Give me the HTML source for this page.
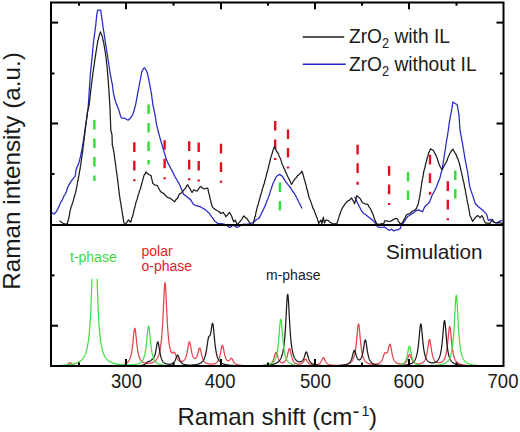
<!DOCTYPE html>
<html><head><meta charset="utf-8"><style>
html,body{margin:0;padding:0;background:#fff;width:520px;height:432px;overflow:hidden}
svg{display:block}
text{font-family:"Liberation Sans", sans-serif}
</style></head><body>
<svg width="520" height="432" viewBox="0 0 520 432">
<defs>
 <clipPath id="cu"><rect x="52" y="4" width="451" height="228"/></clipPath>
 <clipPath id="cl"><rect x="52" y="226" width="451" height="141"/></clipPath>
</defs>
<rect width="520" height="432" fill="#fff"/>
<g clip-path="url(#cu)" fill="none" stroke-linejoin="round">
 <line x1="94.4" y1="120" x2="94.4" y2="181" stroke="#33dd33" stroke-width="2.4" stroke-dasharray="9.6 8.9"/><line x1="148.6" y1="104.5" x2="148.6" y2="164.5" stroke="#33dd33" stroke-width="2.4" stroke-dasharray="9.6 8.9"/><line x1="279.9" y1="182.4" x2="279.9" y2="210.4" stroke="#33dd33" stroke-width="2.4" stroke-dasharray="9.6 8.9"/><line x1="408" y1="172" x2="408" y2="200" stroke="#33dd33" stroke-width="2.4" stroke-dasharray="9.6 8.9"/><line x1="455.3" y1="170.5" x2="455.3" y2="198.5" stroke="#33dd33" stroke-width="2.4" stroke-dasharray="9.6 8.9"/><line x1="134.3" y1="142.3" x2="134.3" y2="181.3" stroke="#e0101e" stroke-width="2.4" stroke-dasharray="9.6 8.9"/><line x1="164.6" y1="140.2" x2="164.6" y2="179.2" stroke="#e0101e" stroke-width="2.4" stroke-dasharray="9.6 8.9"/><line x1="189.2" y1="141.3" x2="189.2" y2="180.3" stroke="#e0101e" stroke-width="2.4" stroke-dasharray="9.6 8.9"/><line x1="198.7" y1="142.5" x2="198.7" y2="181.5" stroke="#e0101e" stroke-width="2.4" stroke-dasharray="9.6 8.9"/><line x1="221" y1="143.8" x2="221" y2="182.8" stroke="#e0101e" stroke-width="2.4" stroke-dasharray="9.6 8.9"/><line x1="275.2" y1="121" x2="275.2" y2="160" stroke="#e0101e" stroke-width="2.4" stroke-dasharray="9.6 8.9"/><line x1="288" y1="129.4" x2="288" y2="168.4" stroke="#e0101e" stroke-width="2.4" stroke-dasharray="9.6 8.9"/><line x1="357.6" y1="144.8" x2="357.6" y2="184.8" stroke="#e0101e" stroke-width="2.4" stroke-dasharray="9.6 8.9"/><line x1="389.1" y1="166.1" x2="389.1" y2="205.1" stroke="#e0101e" stroke-width="2.4" stroke-dasharray="9.6 8.9"/><line x1="430" y1="154.8" x2="430" y2="194.8" stroke="#e0101e" stroke-width="2.4" stroke-dasharray="9.6 8.9"/><line x1="447.8" y1="181.3" x2="447.8" y2="220.3" stroke="#e0101e" stroke-width="2.4" stroke-dasharray="9.6 8.9"/>
 <polyline points="51.50,212.40 54.20,214.20 56.30,211.70 57.15,210.04 58.00,208.48 58.85,206.64 59.70,204.70 60.58,202.78 61.45,201.11 62.33,199.79 63.20,197.80 64.13,195.72 65.07,194.56 66.00,192.60 66.70,190.51 67.40,188.00 68.40,185.93 69.40,183.90 70.57,182.13 71.73,180.48 72.90,179.00 74.10,177.33 75.30,176.00 75.53,173.96 75.77,172.00 76.00,170.00 76.75,168.04 77.50,166.00 78.25,164.60 79.00,162.50 79.50,160.60 80.00,158.39 80.50,156.54 81.00,153.90 81.50,152.00 81.83,149.81 82.17,148.18 82.50,145.83 82.83,143.87 83.17,142.26 83.50,140.30 83.80,138.22 84.10,136.47 84.40,134.21 84.70,132.07 85.00,130.00 85.30,128.00 85.60,125.82 85.90,123.66 86.20,121.78 86.50,120.00 86.77,118.13 87.03,115.79 87.30,113.91 87.57,111.65 87.83,110.23 88.10,108.00 88.23,105.82 88.36,103.96 88.49,102.45 88.62,100.25 88.75,98.54 88.88,96.46 89.01,94.59 89.14,92.19 89.27,90.57 89.40,88.60 89.52,86.81 89.64,85.26 89.77,83.10 89.89,81.47 90.01,79.29 90.13,77.72 90.26,75.88 90.38,73.96 90.50,72.40 90.69,70.82 90.88,68.72 91.07,67.34 91.26,65.26 91.44,63.47 91.63,61.70 91.82,59.92 92.01,57.76 92.20,56.20 92.38,54.11 92.57,51.92 92.75,49.98 92.93,47.72 93.12,46.28 93.30,43.90 93.53,41.83 93.77,40.29 94.00,38.30 94.25,36.31 94.50,34.86 94.75,32.86 95.00,30.90 95.22,28.79 95.45,27.44 95.68,25.66 95.90,23.50 96.08,21.94 96.26,19.87 96.44,17.73 96.62,15.92 96.80,14.30 97.20,12.55 97.60,10.20 100.80,10.20 101.00,12.29 101.20,14.30 101.50,15.93 101.80,18.27 102.10,19.95 102.40,21.70 102.62,23.60 102.85,25.31 103.08,27.19 103.30,29.10 103.65,30.99 104.00,32.93 104.35,35.59 104.70,37.40 105.00,39.54 105.30,41.77 105.60,43.90 105.93,45.83 106.27,48.18 106.60,49.72 106.93,52.01 107.27,53.82 107.60,56.20 107.87,57.74 108.13,60.13 108.40,61.71 108.67,63.35 108.93,65.22 109.20,67.26 109.47,68.69 109.73,70.66 110.00,72.40 110.34,74.33 110.69,75.90 111.03,77.81 111.37,79.79 111.71,81.69 112.06,82.96 112.40,85.00 112.62,87.15 112.85,88.35 113.08,90.73 113.30,92.40 113.77,94.78 114.23,96.48 114.70,98.90 115.33,100.68 115.97,102.79 116.60,104.40 117.37,105.93 118.13,108.22 118.90,110.00 119.50,112.37 120.10,114.34 120.70,116.50 121.50,118.00 124.40,118.00 126.25,119.26 128.10,120.20 130.50,118.00 131.65,116.16 132.80,114.70 133.50,112.14 134.20,110.00 134.90,107.40 135.60,105.00 135.93,102.93 136.27,101.19 136.60,99.76 136.93,97.65 137.27,95.64 137.60,93.90 137.95,91.89 138.30,90.52 138.65,88.31 139.00,86.84 139.35,84.66 139.70,82.80 140.05,80.96 140.40,79.38 140.75,77.42 141.10,75.46 141.45,73.50 141.80,71.70 142.65,70.36 143.50,68.50 144.60,67.80 146.00,70.00 147.40,73.00 147.80,74.90 148.20,77.22 148.60,78.58 149.00,80.79 149.40,82.80 149.75,84.66 150.10,86.82 150.45,88.18 150.80,90.41 151.15,92.17 151.50,93.90 151.73,95.90 151.97,97.69 152.20,99.78 152.43,101.18 152.67,103.08 152.90,105.00 153.32,106.73 153.74,108.57 154.16,110.62 154.58,113.05 155.00,114.70 155.32,116.96 155.64,118.47 155.96,120.83 156.28,122.77 156.60,124.80 157.07,126.67 157.53,128.51 158.00,130.06 158.47,132.32 158.93,133.78 159.40,135.69 159.87,137.49 160.33,138.98 160.80,141.00 161.38,142.57 161.95,144.69 162.53,146.81 163.10,148.50 163.68,150.64 164.27,152.49 164.85,153.98 165.43,156.46 166.02,158.29 166.60,160.00 167.75,162.61 168.90,164.70 169.73,166.37 170.56,168.31 171.39,169.35 172.21,171.00 173.04,172.65 173.87,174.47 174.70,176.30 175.76,177.98 176.82,179.80 177.88,181.93 178.94,183.42 180.00,185.60 180.70,187.38 181.40,188.81 182.10,190.88 182.80,192.14 183.50,194.20 185.20,195.37 186.90,196.80 188.65,198.41 190.40,199.40 191.53,201.16 192.67,203.08 193.80,204.60 195.53,205.28 197.27,205.81 199.00,206.30 200.73,206.95 202.47,208.09 204.20,208.90 205.93,210.04 207.67,212.04 209.40,213.30 210.44,215.18 211.48,216.67 212.52,217.67 213.56,219.43 214.60,221.10 216.35,222.27 218.10,223.70 221.50,223.70 223.75,224.08 226.00,225.00 228.00,226.34 230.00,227.50 231.50,226.46 233.00,225.00 235.00,226.12 237.00,227.50 238.67,226.75 240.33,225.71 242.00,224.50 244.00,224.07 246.00,224.35 248.00,224.00 250.50,223.52 253.00,222.50 254.60,221.30 256.13,219.95 257.67,219.08 259.20,217.90 260.14,216.14 261.08,214.26 262.02,212.04 262.96,210.57 263.90,208.60 264.67,206.78 265.43,204.99 266.20,203.06 266.97,200.81 267.73,199.17 268.50,197.10 269.07,195.62 269.65,193.90 270.23,191.65 270.80,189.82 271.38,188.52 271.95,186.48 272.53,184.98 273.10,183.20 273.98,181.76 274.85,179.62 275.73,177.78 276.60,176.20 279.60,174.40 282.40,176.20 283.53,178.10 284.67,180.18 285.80,182.00 286.98,183.17 288.15,184.82 289.32,186.09 290.50,187.80 291.65,189.64 292.80,191.48 293.95,192.89 295.10,194.70 295.98,196.36 296.85,198.23 297.73,199.75 298.60,201.70 299.45,203.25 300.30,205.03 301.15,206.85 302.00,208.60" stroke="#2626c8" stroke-width="1.25"/>
 <polyline points="354.60,196.90 355.75,198.91 356.90,201.50 358.05,204.03 359.20,206.20 360.35,208.56 361.50,210.80 362.65,212.11 363.80,213.70 365.55,214.55 367.30,216.00 368.75,217.33 370.20,218.30 371.65,219.19 373.10,220.60 374.55,222.04 376.00,224.00 377.70,226.90 381.20,227.50 384.60,226.90 386.90,228.70 389.20,230.40 391.50,229.20 393.80,230.90 395.55,230.09 397.30,229.80 400.20,228.70 401.05,226.36 401.90,224.60 403.35,222.88 404.80,220.60 406.25,218.39 407.70,216.50 410.80,214.80 412.43,213.36 414.07,212.43 415.70,210.90 418.70,209.90 420.65,210.93 422.60,211.80 423.60,209.18 424.60,207.00 426.23,205.29 427.87,203.94 429.50,202.00 430.23,200.11 430.95,198.55 431.67,196.32 432.40,194.80 433.22,193.34 434.04,191.75 434.86,190.17 435.68,188.44 436.50,186.70 437.30,184.58 438.10,182.34 438.90,180.64 439.70,178.60 440.20,176.84 440.70,174.50 441.20,172.62 441.70,170.87 442.20,168.90 442.50,167.22 442.80,165.46 443.10,163.07 443.40,161.25 443.70,159.82 444.00,157.86 444.30,155.90 444.57,154.21 444.84,152.56 445.11,150.68 445.39,148.77 445.66,146.88 445.93,144.77 446.20,143.00 446.53,141.10 446.87,138.78 447.20,137.18 447.53,135.18 447.87,133.15 448.20,131.00 448.48,128.88 448.76,126.75 449.04,124.70 449.32,122.35 449.60,120.60 449.98,118.88 450.36,116.71 450.74,114.64 451.12,112.79 451.50,110.80 451.85,108.76 452.20,106.32 452.55,104.43 452.90,102.00 455.00,103.54 457.10,104.50 457.48,106.52 457.86,108.45 458.24,110.98 458.62,113.25 459.00,115.00 459.12,116.63 459.25,118.90 459.38,120.85 459.50,122.79 459.62,124.11 459.75,125.96 459.88,128.47 460.00,130.00 460.34,131.59 460.69,133.49 461.03,135.62 461.37,137.39 461.71,139.46 462.06,140.93 462.40,143.00 462.70,145.12 463.00,146.45 463.30,148.66 463.60,150.00 463.90,152.11 464.20,153.62 464.50,155.64 464.80,157.60 465.15,159.28 465.50,161.38 465.85,163.01 466.20,164.54 466.55,167.01 466.90,168.75 467.25,170.58 467.60,172.10 467.86,173.75 468.12,175.68 468.39,177.38 468.65,179.14 468.91,180.90 469.18,183.05 469.44,184.61 469.70,186.70 470.37,188.44 471.03,190.89 471.70,192.60 472.32,194.44 472.93,196.08 473.55,198.27 474.17,199.84 474.78,201.87 475.40,203.70 476.75,204.95 478.10,206.50 479.67,207.74 481.23,209.06 482.80,210.20 484.65,212.08 486.50,213.90 487.10,215.99 487.70,218.44 488.30,220.40 491.10,219.40 492.50,221.06 493.90,222.20 496.70,223.10 499.40,221.30 502.00,220.40" stroke="#2626c8" stroke-width="1.25"/>
 <polyline points="59.60,220.60 60.40,221.40 62.50,223.00 65.00,224.00 67.40,223.50 67.87,221.48 68.33,219.80 68.80,218.60 69.06,216.48 69.32,215.86 69.58,214.15 69.84,211.64 70.10,210.30 70.66,209.18 71.22,206.59 71.78,205.27 72.34,203.58 72.90,201.90 73.37,200.78 73.83,198.12 74.30,196.83 74.77,195.55 75.23,193.30 75.70,192.20 76.00,190.30 76.30,188.99 76.60,187.90 76.90,186.17 77.20,184.67 77.50,183.00 77.80,181.10 78.10,179.76 78.40,178.35 78.70,176.56 79.00,175.04 79.30,172.93 79.60,171.19 79.90,170.00 80.15,168.61 80.40,166.20 80.65,165.40 80.90,163.32 81.15,161.30 81.40,160.32 81.65,157.69 81.90,156.42 82.15,154.21 82.40,153.00 82.60,151.92 82.80,149.80 83.00,148.44 83.20,146.17 83.40,145.15 83.60,143.39 83.80,141.67 84.00,140.40 84.20,138.13 84.40,136.47 84.60,135.16 84.80,133.69 85.00,131.44 85.20,130.00 85.41,128.57 85.62,126.38 85.83,125.15 86.04,123.78 86.25,121.30 86.45,120.46 86.66,117.96 86.87,117.46 87.08,115.24 87.29,113.53 87.50,112.00 87.92,110.46 88.35,108.43 88.78,106.88 89.20,104.80 89.38,102.68 89.56,101.64 89.74,100.01 89.92,98.84 90.10,96.15 90.28,95.02 90.46,93.62 90.64,91.90 90.82,89.71 91.00,88.60 91.20,87.09 91.40,85.03 91.60,83.37 91.80,82.57 92.00,80.14 92.20,78.83 92.40,77.56 92.60,75.89 92.80,74.08 93.00,72.40 93.24,71.15 93.48,69.12 93.72,67.68 93.96,66.30 94.20,64.51 94.44,62.85 94.68,60.95 94.92,59.51 95.16,57.70 95.40,56.20 95.68,54.72 95.95,52.51 96.22,50.83 96.50,49.41 96.78,47.33 97.05,45.36 97.32,44.17 97.60,42.00 97.97,40.26 98.35,39.21 98.72,37.54 99.10,35.60 99.80,33.69 100.50,31.90 101.20,34.01 101.90,35.60 102.33,36.64 102.75,38.67 103.17,40.83 103.60,42.00 103.89,43.87 104.17,45.62 104.46,47.52 104.75,49.31 105.04,50.98 105.33,52.55 105.61,54.05 105.90,56.20 106.07,57.57 106.24,59.19 106.41,60.98 106.58,63.28 106.75,64.12 106.92,65.86 107.09,67.39 107.26,69.26 107.43,71.32 107.60,72.40 107.72,74.49 107.84,75.49 107.96,76.98 108.08,79.34 108.20,80.49 108.32,82.34 108.44,83.23 108.56,85.80 108.68,86.76 108.80,88.60 108.90,90.21 109.00,91.47 109.10,93.35 109.20,95.46 109.30,97.08 109.40,98.27 109.50,100.24 109.60,101.48 109.70,103.00 109.80,104.82 109.90,106.02 110.00,108.00 110.06,109.47 110.12,111.63 110.18,113.40 110.25,114.24 110.31,116.74 110.37,118.53 110.43,119.78 110.49,121.01 110.55,123.45 110.62,124.62 110.68,126.79 110.74,128.16 110.80,130.00 111.20,131.83 111.60,133.04 112.00,135.00 112.05,136.64 112.10,138.36 112.15,140.16 112.20,141.31 112.25,143.89 112.30,145.00 112.77,146.75 113.23,148.77 113.70,151.00 113.93,152.38 114.16,153.83 114.39,155.93 114.62,158.03 114.86,159.63 115.09,160.68 115.32,162.29 115.55,164.19 115.78,166.40 116.01,167.74 116.24,169.93 116.48,171.29 116.71,172.92 116.94,174.77 117.17,176.43 117.40,177.80 117.60,179.33 117.80,180.95 118.00,182.89 118.20,184.67 118.40,185.97 118.60,188.05 118.80,190.01 119.00,191.12 119.20,192.85 119.40,195.00 119.68,196.38 119.97,198.27 120.25,200.85 120.53,201.50 120.82,203.45 121.10,205.60 121.35,206.78 121.61,208.73 121.86,209.76 122.12,211.88 122.37,213.10 122.63,214.81 122.88,217.02 123.14,217.88 123.39,219.98 123.65,221.31 123.90,223.00 126.00,223.50 127.25,221.65 128.50,220.00 130.70,222.20 131.22,220.80 131.74,218.23 132.26,217.37 132.78,215.55 133.30,213.30 133.72,211.80 134.13,209.36 134.55,208.40 134.97,206.62 135.38,205.13 135.80,203.10 136.33,201.06 136.87,200.24 137.40,198.46 137.93,195.84 138.47,194.38 139.00,192.90 139.52,190.56 140.04,189.74 140.56,188.06 141.08,186.37 141.60,184.00 142.10,182.35 142.60,180.64 143.10,178.87 143.60,176.96 144.10,175.10 145.05,174.04 146.00,171.90 147.35,173.33 148.70,174.50 151.00,175.60 151.43,177.30 151.85,179.42 152.27,180.72 152.70,183.20 154.50,184.90 157.40,185.50 158.12,187.22 158.85,188.63 159.58,189.76 160.30,191.30 161.75,192.57 163.20,193.00 164.90,194.80 166.35,196.51 167.80,197.60 170.10,198.20 171.55,199.15 173.00,200.50 174.70,201.70 176.15,199.44 177.60,198.20 178.37,196.23 179.13,194.75 179.90,193.60 181.50,193.00 182.50,191.51 183.50,190.50 184.57,188.99 185.65,188.11 186.73,185.88 187.80,184.70 188.90,187.08 190.00,188.50 191.05,190.72 192.10,192.50 193.80,189.90 195.55,190.77 197.30,190.80 198.47,189.22 199.63,187.27 200.80,186.40 202.50,188.04 204.20,189.00 205.95,188.29 207.70,188.20 208.07,189.37 208.44,191.76 208.81,193.22 209.19,194.25 209.56,195.92 209.93,198.33 210.30,199.40 210.73,200.85 211.15,203.09 211.57,204.13 212.00,206.30 213.30,207.98 214.60,208.90 217.20,210.70 218.95,211.54 220.70,213.30 223.30,212.40 224.17,213.85 225.03,214.71 225.90,216.70 227.03,215.33 228.17,214.25 229.30,212.40 230.17,213.33 231.03,215.00 231.90,216.70 232.50,218.75 233.10,220.30 233.70,221.90 235.40,220.20 236.25,222.13 237.10,224.50 238.40,223.35 239.70,221.90 240.77,220.35 241.85,219.33 242.93,217.15 244.00,215.90 245.17,217.34 246.33,218.33 247.50,219.30 248.67,221.32 249.83,222.62 251.00,224.50 252.70,225.20 253.15,223.92 253.60,222.34 254.05,220.41 254.50,219.00 254.90,216.70 255.30,216.09 255.70,214.06 256.10,211.71 256.50,210.61 256.90,208.60 257.37,206.71 257.84,205.32 258.31,204.17 258.78,202.06 259.25,200.25 259.72,198.65 260.19,196.75 260.66,195.30 261.13,193.75 261.60,192.40 262.06,190.39 262.52,188.64 262.98,187.50 263.44,185.58 263.90,184.59 264.36,183.19 264.82,180.79 265.28,179.53 265.74,177.83 266.20,176.20 266.62,174.01 267.04,172.39 267.45,171.62 267.87,169.44 268.29,168.16 268.71,165.59 269.13,164.54 269.55,163.18 269.96,161.50 270.38,158.79 270.80,157.70 271.30,156.14 271.80,154.37 272.30,153.25 272.80,150.85 273.30,149.49 273.80,148.56 274.30,146.60 275.07,148.03 275.83,149.48 276.60,151.56 277.37,152.25 278.13,153.38 278.90,155.40 279.56,156.93 280.21,158.30 280.87,159.87 281.53,162.11 282.19,164.23 282.84,165.44 283.50,167.00 284.17,168.66 284.84,169.76 285.51,171.54 286.19,173.25 286.86,174.54 287.53,176.28 288.20,177.40 289.05,179.19 289.90,180.49 290.75,182.67 291.60,184.30 292.48,182.86 293.35,181.05 294.23,180.17 295.10,178.60 296.27,177.81 297.43,175.83 298.60,175.10 299.73,173.85 300.87,172.78 302.00,171.20 302.50,172.80 303.00,174.35 303.50,176.19 304.00,178.11 304.50,180.00 305.00,181.56 305.50,183.20 305.94,184.47 306.38,187.06 306.81,188.92 307.25,189.67 307.69,191.59 308.12,193.23 308.56,195.78 309.00,197.10 309.57,199.13 310.13,199.62 310.70,201.50 311.27,202.86 311.83,204.73 312.40,206.30 313.07,208.46 313.74,209.10 314.41,210.88 315.09,212.91 315.76,214.61 316.43,216.54 317.10,217.90 317.63,219.69 318.17,221.20 318.70,223.50 319.85,221.57 321.00,220.00 321.50,222.33 322.00,223.50 322.32,222.20 322.65,219.84 322.98,219.07 323.30,217.10 323.70,218.84 324.10,221.37 324.50,223.00 325.35,220.92 326.20,220.00 328.50,220.60 329.95,222.20 331.40,222.90 333.00,224.00 334.85,223.59 336.70,224.00 337.27,222.22 337.85,220.74 338.43,218.83 339.00,217.10 339.58,215.08 340.16,213.43 340.74,211.98 341.32,210.08 341.90,209.00 343.05,206.91 344.20,205.50 345.17,203.69 346.13,202.72 347.10,201.40 349.40,200.30 350.55,198.98 351.70,198.00 352.43,199.55 353.15,200.64 353.88,201.79 354.60,203.80 355.06,201.96 355.52,200.83 355.98,198.59 356.44,197.13 356.90,195.60 358.35,197.16 359.80,198.10 360.77,199.52 361.73,201.63 362.70,202.70 365.00,203.80 367.90,204.40 369.05,206.95 370.20,208.50 370.97,209.81 371.73,211.85 372.50,213.10 373.07,214.54 373.63,216.13 374.20,218.30 374.97,219.96 375.73,221.89 376.50,223.50 378.25,224.27 380.00,224.00 381.75,223.58 383.50,224.00 384.05,222.70 384.60,220.90 386.90,220.90 389.00,221.50 391.50,220.90 392.95,219.82 394.40,218.80 396.70,218.30 397.60,219.31 398.50,221.20 399.65,223.17 400.80,224.00 401.95,223.08 403.10,221.70 403.95,219.58 404.80,218.84 405.65,216.20 406.50,215.00 408.15,213.91 409.80,213.80 411.20,212.20 412.60,211.00 414.55,210.28 416.50,208.50 417.25,205.94 418.00,204.50 418.43,203.15 418.85,200.93 419.27,198.43 419.70,197.10 419.95,195.42 420.20,193.52 420.45,191.88 420.70,190.32 420.95,188.48 421.20,186.50 421.49,185.41 421.77,182.71 422.06,181.81 422.35,179.64 422.64,178.40 422.93,176.85 423.21,175.28 423.50,173.00 423.92,170.97 424.33,169.44 424.75,168.28 425.17,166.53 425.58,164.10 426.00,162.50 426.50,161.23 427.00,158.79 427.50,156.95 428.00,155.61 428.50,153.50 429.17,151.93 429.83,150.37 430.50,148.90 433.20,150.30 434.02,151.76 434.85,153.42 435.68,154.67 436.50,156.70 437.14,157.97 437.78,160.60 438.42,162.18 439.06,164.11 439.70,165.70 440.95,168.06 442.20,169.70 443.00,167.92 443.80,166.46 444.60,165.05 445.40,163.62 446.20,162.40 446.84,161.09 447.48,159.01 448.12,157.33 448.76,156.08 449.40,154.30 450.60,152.19 451.80,150.36 453.00,149.10 453.97,151.07 454.93,152.87 455.90,154.30 456.58,155.80 457.26,157.94 457.94,158.96 458.62,161.15 459.30,163.00 459.68,164.76 460.06,166.04 460.43,167.82 460.81,169.80 461.19,171.44 461.57,172.59 461.94,174.91 462.32,175.83 462.70,178.00 463.08,180.31 463.47,181.14 463.85,182.95 464.23,184.64 464.62,187.34 465.00,188.50 465.30,189.91 465.60,191.96 465.90,194.09 466.20,195.71 466.50,196.28 466.80,198.50 467.14,200.23 467.48,202.02 467.82,203.84 468.16,205.10 468.50,207.00 468.80,208.59 469.10,210.01 469.40,211.84 469.70,214.26 470.00,216.00 470.87,217.26 471.73,219.18 472.60,221.30 474.00,219.25 475.40,217.60 477.20,215.70 478.60,216.13 480.00,217.60 481.90,215.70 482.80,216.99 483.70,219.40 484.65,221.76 485.60,223.10 487.80,223.22 490.00,223.50 491.20,221.20 492.40,219.60 494.00,222.00 495.60,222.75 497.20,223.00 499.13,222.58 501.07,223.03 503.00,223.50" stroke="#1c1c1c" stroke-width="1.25"/>
</g>
<g clip-path="url(#cl)">
 <path d="M51.00,366.24 L51.25,366.24 L51.50,366.24 L51.75,366.24 L52.00,366.24 L52.25,366.23 L52.50,366.23 L52.75,366.23 L53.00,366.23 L53.25,366.22 L53.50,366.22 L53.75,366.22 L54.00,366.22 L54.25,366.21 L54.50,366.21 L54.75,366.21 L55.00,366.20 L55.25,366.20 L55.50,366.20 L55.75,366.19 L56.00,366.19 L56.25,366.18 L56.50,366.18 L56.75,366.18 L57.00,366.17 L57.25,366.17 L57.50,366.16 L57.75,366.15 L58.00,366.15 L58.25,366.14 L58.50,366.13 L58.75,366.13 L59.00,366.12 L59.25,366.11 L59.50,366.10 L59.75,366.09 L60.00,366.09 L60.25,366.07 L60.50,366.06 L60.75,366.05 L61.00,366.04 L61.25,366.03 L61.50,366.01 L61.75,365.99 L62.00,365.98 L62.25,365.96 L62.50,365.94 L62.75,365.92 L63.00,365.89 L63.25,365.87 L63.50,365.84 L63.75,365.81 L64.00,365.77 L64.25,365.73 L64.50,365.69 L64.75,365.64 L65.00,365.59 L65.25,365.53 L65.50,365.46 L65.75,365.39 L66.00,365.30 L66.25,365.21 L66.50,365.10 L66.75,364.98 L67.00,364.84 L67.25,364.68 L67.50,364.51 L67.75,364.32 L68.00,364.11 L68.25,363.87 L68.50,363.63 L68.75,363.38 L69.00,363.14 L69.25,362.93 L69.50,362.75 L69.75,362.64 L70.00,362.60 L70.25,362.64 L70.50,362.75 L70.75,362.92 L71.00,363.14 L71.25,363.38 L71.50,363.62 L71.75,363.86 L72.00,364.09 L72.25,364.30 L72.50,364.49 L72.75,364.67 L73.00,364.82 L73.25,364.96 L73.50,365.08 L73.75,365.18 L74.00,365.28 L74.25,365.36 L74.50,365.43 L74.75,365.50 L75.00,365.55 L75.25,365.61 L75.50,365.65 L75.75,365.69 L76.00,365.73 L76.25,365.76 L76.50,365.79 L76.75,365.82 L77.00,365.85 L77.25,365.87 L77.50,365.89 L77.75,365.91 L78.00,365.93 L78.25,365.94 L78.50,365.96 L78.75,365.97 L79.00,365.98 L79.25,365.99 L79.50,366.00 L79.75,366.01 L80.00,366.02 L80.25,366.03 L80.50,366.03 L80.75,366.04 L81.00,366.05 L81.25,366.05 L81.50,366.06 L81.75,366.06 L82.00,366.07 L82.25,366.07 L82.50,366.08 L82.75,366.08 L83.00,366.08 L83.25,366.09 L83.50,366.09 L83.75,366.09 L84.00,366.09 L84.25,366.09 L84.50,366.10 L84.75,366.10 L85.00,366.10 L85.25,366.10 L85.50,366.10 L85.75,366.10 L86.00,366.10 L86.25,366.11 L86.50,366.11 L86.75,366.11 L87.00,366.11 L87.25,366.11 L87.50,366.11 L87.75,366.11 L88.00,366.11 L88.25,366.11 L88.50,366.11 L88.75,366.11 L89.00,366.11 L89.25,366.11 L89.50,366.11 L89.75,366.11 L90.00,366.10 L90.25,366.10 L90.50,366.10 L90.75,366.10 L91.00,366.10 L91.25,366.10 L91.50,366.10 L91.75,366.10 L92.00,366.10 L92.25,366.10 L92.50,366.09 L92.75,366.09 L93.00,366.09 L93.25,366.09 L93.50,366.09 L93.75,366.09 L94.00,366.09 L94.25,366.08 L94.50,366.08 L94.75,366.08 L95.00,366.08 L95.25,366.08 L95.50,366.07 L95.75,366.07 L96.00,366.07 L96.25,366.07 L96.50,366.07 L96.75,366.06 L97.00,366.06 L97.25,366.06 L97.50,366.06 L97.75,366.05 L98.00,366.05 L98.25,366.05 L98.50,366.04 L98.75,366.04 L99.00,366.04 L99.25,366.04 L99.50,366.03 L99.75,366.03 L100.00,366.03 L100.25,366.02 L100.50,366.02 L100.75,366.02 L101.00,366.01 L101.25,366.01 L101.50,366.00 L101.75,366.00 L102.00,366.00 L102.25,365.99 L102.50,365.99 L102.75,365.98 L103.00,365.98 L103.25,365.98 L103.50,365.97 L103.75,365.97 L104.00,365.96 L104.25,365.96 L104.50,365.95 L104.75,365.95 L105.00,365.94 L105.25,365.94 L105.50,365.93 L105.75,365.93 L106.00,365.92 L106.25,365.91 L106.50,365.91 L106.75,365.90 L107.00,365.90 L107.25,365.89 L107.50,365.88 L107.75,365.88 L108.00,365.87 L108.25,365.86 L108.50,365.86 L108.75,365.85 L109.00,365.84 L109.25,365.83 L109.50,365.82 L109.75,365.82 L110.00,365.81 L110.25,365.80 L110.50,365.79 L110.75,365.78 L111.00,365.77 L111.25,365.76 L111.50,365.75 L111.75,365.74 L112.00,365.73 L112.25,365.72 L112.50,365.71 L112.75,365.70 L113.00,365.69 L113.25,365.67 L113.50,365.66 L113.75,365.65 L114.00,365.63 L114.25,365.62 L114.50,365.61 L114.75,365.59 L115.00,365.57 L115.25,365.56 L115.50,365.54 L115.75,365.52 L116.00,365.51 L116.25,365.49 L116.50,365.47 L116.75,365.45 L117.00,365.43 L117.25,365.41 L117.50,365.39 L117.75,365.36 L118.00,365.34 L118.25,365.31 L118.50,365.29 L118.75,365.26 L119.00,365.23 L119.25,365.20 L119.50,365.17 L119.75,365.14 L120.00,365.10 L120.25,365.07 L120.50,365.03 L120.75,364.99 L121.00,364.95 L121.25,364.91 L121.50,364.86 L121.75,364.82 L122.00,364.76 L122.25,364.71 L122.50,364.66 L122.75,364.60 L123.00,364.53 L123.25,364.47 L123.50,364.40 L123.75,364.32 L124.00,364.24 L124.25,364.16 L124.50,364.07 L124.75,363.97 L125.00,363.87 L125.25,363.76 L125.50,363.64 L125.75,363.51 L126.00,363.38 L126.25,363.23 L126.50,363.07 L126.75,362.90 L127.00,362.71 L127.25,362.51 L127.50,362.28 L127.75,362.04 L128.00,361.78 L128.25,361.49 L128.50,361.17 L128.75,360.81 L129.00,360.42 L129.25,359.99 L129.50,359.51 L129.75,358.98 L130.00,358.38 L130.25,357.71 L130.50,356.96 L130.75,356.11 L131.00,355.16 L131.25,354.08 L131.50,352.86 L131.75,351.49 L132.00,349.93 L132.25,348.19 L132.50,346.25 L132.75,344.11 L133.00,341.78 L133.25,339.30 L133.50,336.76 L133.75,334.27 L134.00,331.98 L134.25,330.09 L134.50,328.79 L134.75,328.22 L135.00,328.45 L135.25,329.46 L135.50,331.12 L135.75,333.25 L136.00,335.66 L136.25,338.18 L136.50,340.67 L136.75,343.04 L137.00,345.25 L137.25,347.25 L137.50,349.05 L137.75,350.66 L138.00,352.08 L138.25,353.34 L138.50,354.45 L138.75,355.43 L139.00,356.30 L139.25,357.07 L139.50,357.74 L139.75,358.35 L140.00,358.88 L140.25,359.36 L140.50,359.79 L140.75,360.17 L141.00,360.52 L141.25,360.82 L141.50,361.10 L141.75,361.35 L142.00,361.57 L142.25,361.78 L142.50,361.96 L142.75,362.13 L143.00,362.28 L143.25,362.41 L143.50,362.54 L143.75,362.65 L144.00,362.75 L144.25,362.84 L144.50,362.92 L144.75,362.99 L145.00,363.05 L145.25,363.11 L145.50,363.16 L145.75,363.20 L146.00,363.24 L146.25,363.27 L146.50,363.30 L146.75,363.32 L147.00,363.34 L147.25,363.35 L147.50,363.35 L147.75,363.35 L148.00,363.35 L148.25,363.34 L148.50,363.33 L148.75,363.32 L149.00,363.29 L149.25,363.27 L149.50,363.24 L149.75,363.21 L150.00,363.17 L150.25,363.12 L150.50,363.08 L150.75,363.02 L151.00,362.96 L151.25,362.90 L151.50,362.83 L151.75,362.76 L152.00,362.67 L152.25,362.59 L152.50,362.49 L152.75,362.39 L153.00,362.28 L153.25,362.16 L153.50,362.03 L153.75,361.90 L154.00,361.75 L154.25,361.59 L154.50,361.42 L154.75,361.23 L155.00,361.04 L155.25,360.82 L155.50,360.59 L155.75,360.34 L156.00,360.08 L156.25,359.78 L156.50,359.47 L156.75,359.13 L157.00,358.75 L157.25,358.35 L157.50,357.91 L157.75,357.42 L158.00,356.89 L158.25,356.31 L158.50,355.67 L158.75,354.96 L159.00,354.18 L159.25,353.32 L159.50,352.36 L159.75,351.29 L160.00,350.10 L160.25,348.76 L160.50,347.26 L160.75,345.58 L161.00,343.68 L161.25,341.53 L161.50,339.11 L161.75,336.37 L162.00,333.27 L162.25,329.78 L162.50,325.87 L162.75,321.51 L163.00,316.71 L163.25,311.52 L163.50,306.03 L163.75,300.44 L164.00,295.01 L164.25,290.12 L164.50,286.18 L164.75,283.61 L165.00,282.70 L165.25,283.56 L165.50,286.08 L165.75,289.96 L166.00,294.80 L166.25,300.16 L166.50,305.70 L166.75,311.13 L167.00,316.26 L167.25,320.99 L167.50,325.28 L167.75,329.12 L168.00,332.53 L168.25,335.54 L168.50,338.19 L168.75,340.51 L169.00,342.55 L169.25,344.33 L169.50,345.88 L169.75,347.24 L170.00,348.41 L170.25,349.42 L170.50,350.29 L170.75,351.03 L171.00,351.64 L171.25,352.14 L171.50,352.53 L171.75,352.81 L172.00,352.99 L172.25,353.08 L172.50,353.08 L172.75,352.99 L173.00,352.84 L173.25,352.65 L173.50,352.44 L173.75,352.26 L174.00,352.15 L174.25,352.15 L174.50,352.30 L174.75,352.60 L175.00,353.05 L175.25,353.62 L175.50,354.27 L175.75,354.96 L176.00,355.66 L176.25,356.33 L176.50,356.96 L176.75,357.54 L177.00,358.07 L177.25,358.54 L177.50,358.97 L177.75,359.34 L178.00,359.67 L178.25,359.97 L178.50,360.22 L178.75,360.45 L179.00,360.64 L179.25,360.81 L179.50,360.96 L179.75,361.08 L180.00,361.18 L180.25,361.26 L180.50,361.33 L180.75,361.37 L181.00,361.40 L181.25,361.42 L181.50,361.41 L181.75,361.39 L182.00,361.35 L182.25,361.30 L182.50,361.22 L182.75,361.12 L183.00,361.01 L183.25,360.87 L183.50,360.70 L183.75,360.51 L184.00,360.28 L184.25,360.02 L184.50,359.72 L184.75,359.38 L185.00,358.98 L185.25,358.53 L185.50,358.01 L185.75,357.43 L186.00,356.75 L186.25,355.99 L186.50,355.12 L186.75,354.14 L187.00,353.03 L187.25,351.80 L187.50,350.45 L187.75,349.00 L188.00,347.49 L188.25,345.97 L188.50,344.53 L188.75,343.28 L189.00,342.33 L189.25,341.80 L189.50,341.73 L189.75,342.14 L190.00,342.98 L190.25,344.14 L190.50,345.51 L190.75,346.98 L191.00,348.46 L191.25,349.89 L191.50,351.21 L191.75,352.41 L192.00,353.48 L192.25,354.43 L192.50,355.25 L192.75,355.96 L193.00,356.57 L193.25,357.08 L193.50,357.51 L193.75,357.85 L194.00,358.13 L194.25,358.33 L194.50,358.48 L194.75,358.55 L195.00,358.57 L195.25,358.53 L195.50,358.42 L195.75,358.25 L196.00,358.01 L196.25,357.69 L196.50,357.29 L196.75,356.81 L197.00,356.24 L197.25,355.57 L197.50,354.80 L197.75,353.94 L198.00,352.99 L198.25,351.99 L198.50,350.96 L198.75,349.98 L199.00,349.11 L199.25,348.45 L199.50,348.07 L199.75,348.02 L200.00,348.32 L200.25,348.93 L200.50,349.80 L200.75,350.84 L201.00,351.96 L201.25,353.11 L201.50,354.22 L201.75,355.27 L202.00,356.23 L202.25,357.10 L202.50,357.89 L202.75,358.58 L203.00,359.20 L203.25,359.75 L203.50,360.24 L203.75,360.67 L204.00,361.06 L204.25,361.40 L204.50,361.70 L204.75,361.97 L205.00,362.21 L205.25,362.42 L205.50,362.62 L205.75,362.79 L206.00,362.95 L206.25,363.09 L206.50,363.22 L206.75,363.33 L207.00,363.43 L207.25,363.53 L207.50,363.61 L207.75,363.69 L208.00,363.75 L208.25,363.82 L208.50,363.87 L208.75,363.92 L209.00,363.96 L209.25,364.00 L209.50,364.03 L209.75,364.05 L210.00,364.07 L210.25,364.09 L210.50,364.10 L210.75,364.11 L211.00,364.12 L211.25,364.12 L211.50,364.11 L211.75,364.10 L212.00,364.09 L212.25,364.07 L212.50,364.04 L212.75,364.01 L213.00,363.98 L213.25,363.94 L213.50,363.89 L213.75,363.84 L214.00,363.77 L214.25,363.71 L214.50,363.63 L214.75,363.54 L215.00,363.45 L215.25,363.34 L215.50,363.22 L215.75,363.08 L216.00,362.94 L216.25,362.77 L216.50,362.58 L216.75,362.37 L217.00,362.14 L217.25,361.88 L217.50,361.58 L217.75,361.25 L218.00,360.88 L218.25,360.46 L218.50,359.98 L218.75,359.44 L219.00,358.82 L219.25,358.13 L219.50,357.35 L219.75,356.46 L220.00,355.47 L220.25,354.38 L220.50,353.17 L220.75,351.88 L221.00,350.54 L221.25,349.18 L221.50,347.91 L221.75,346.80 L222.00,345.96 L222.25,345.49 L222.50,345.43 L222.75,345.79 L223.00,346.54 L223.25,347.57 L223.50,348.79 L223.75,350.10 L224.00,351.42 L224.25,352.69 L224.50,353.87 L224.75,354.95 L225.00,355.91 L225.25,356.77 L225.50,357.51 L225.75,358.16 L226.00,358.72 L226.25,359.20 L226.50,359.61 L226.75,359.95 L227.00,360.22 L227.25,360.44 L227.50,360.61 L227.75,360.73 L228.00,360.79 L228.25,360.80 L228.50,360.77 L228.75,360.69 L229.00,360.55 L229.25,360.37 L229.50,360.14 L229.75,359.87 L230.00,359.56 L230.25,359.24 L230.50,358.92 L230.75,358.63 L231.00,358.42 L231.25,358.30 L231.50,358.30 L231.75,358.44 L232.00,358.69 L232.25,359.05 L232.50,359.48 L232.75,359.95 L233.00,360.43 L233.25,360.90 L233.50,361.34 L233.75,361.75 L234.00,362.12 L234.25,362.45 L234.50,362.76 L234.75,363.02 L235.00,363.26 L235.25,363.48 L235.50,363.67 L235.75,363.84 L236.00,363.99 L236.25,364.13 L236.50,364.26 L236.75,364.37 L237.00,364.47 L237.25,364.56 L237.50,364.64 L237.75,364.72 L238.00,364.79 L238.25,364.86 L238.50,364.92 L238.75,364.97 L239.00,365.02 L239.25,365.07 L239.50,365.11 L239.75,365.15 L240.00,365.19 L240.25,365.22 L240.50,365.26 L240.75,365.29 L241.00,365.32 L241.25,365.34 L241.50,365.37 L241.75,365.39 L242.00,365.41 L242.25,365.44 L242.50,365.46 L242.75,365.47 L243.00,365.49 L243.25,365.51 L243.50,365.53 L243.75,365.54 L244.00,365.56 L244.25,365.57 L244.50,365.58 L244.75,365.59 L245.00,365.61 L245.25,365.62 L245.50,365.63 L245.75,365.64 L246.00,365.65 L246.25,365.65 L246.50,365.66 L246.75,365.67 L247.00,365.68 L247.25,365.69 L247.50,365.69 L247.75,365.70 L248.00,365.71 L248.25,365.71 L248.50,365.72 L248.75,365.72 L249.00,365.73 L249.25,365.73 L249.50,365.73 L249.75,365.74 L250.00,365.74 L250.25,365.75 L250.50,365.75 L250.75,365.75 L251.00,365.75 L251.25,365.76 L251.50,365.76 L251.75,365.76 L252.00,365.76 L252.25,365.76 L252.50,365.76 L252.75,365.76 L253.00,365.76 L253.25,365.76 L253.50,365.76 L253.75,365.76 L254.00,365.76 L254.25,365.76 L254.50,365.76 L254.75,365.76 L255.00,365.76 L255.25,365.76 L255.50,365.76 L255.75,365.75 L256.00,365.75 L256.25,365.75 L256.50,365.74 L256.75,365.74 L257.00,365.74 L257.25,365.73 L257.50,365.73 L257.75,365.72 L258.00,365.72 L258.25,365.71 L258.50,365.71 L258.75,365.70 L259.00,365.69 L259.25,365.69 L259.50,365.68 L259.75,365.67 L260.00,365.66 L260.25,365.65 L260.50,365.64 L260.75,365.63 L261.00,365.62 L261.25,365.61 L261.50,365.60 L261.75,365.59 L262.00,365.57 L262.25,365.56 L262.50,365.55 L262.75,365.53 L263.00,365.51 L263.25,365.49 L263.50,365.48 L263.75,365.46 L264.00,365.43 L264.25,365.41 L264.50,365.39 L264.75,365.36 L265.00,365.33 L265.25,365.30 L265.50,365.27 L265.75,365.24 L266.00,365.20 L266.25,365.17 L266.50,365.13 L266.75,365.08 L267.00,365.03 L267.25,364.98 L267.50,364.93 L267.75,364.87 L268.00,364.80 L268.25,364.73 L268.50,364.66 L268.75,364.58 L269.00,364.49 L269.25,364.39 L269.50,364.28 L269.75,364.16 L270.00,364.03 L270.25,363.88 L270.50,363.72 L270.75,363.54 L271.00,363.35 L271.25,363.12 L271.50,362.88 L271.75,362.60 L272.00,362.28 L272.25,361.93 L272.50,361.53 L272.75,361.08 L273.00,360.58 L273.25,360.01 L273.50,359.37 L273.75,358.66 L274.00,357.87 L274.25,357.03 L274.50,356.13 L274.75,355.22 L275.00,354.34 L275.25,353.54 L275.50,352.89 L275.75,352.46 L276.00,352.30 L276.25,352.42 L276.50,352.81 L276.75,353.42 L277.00,354.18 L277.25,355.02 L277.50,355.89 L277.75,356.75 L278.00,357.55 L278.25,358.29 L278.50,358.95 L278.75,359.54 L279.00,360.07 L279.25,360.52 L279.50,360.91 L279.75,361.26 L280.00,361.55 L280.25,361.80 L280.50,362.01 L280.75,362.18 L281.00,362.33 L281.25,362.45 L281.50,362.54 L281.75,362.60 L282.00,362.64 L282.25,362.66 L282.50,362.66 L282.75,362.64 L283.00,362.59 L283.25,362.52 L283.50,362.43 L283.75,362.31 L284.00,362.17 L284.25,362.00 L284.50,361.80 L284.75,361.56 L285.00,361.28 L285.25,360.95 L285.50,360.58 L285.75,360.15 L286.00,359.66 L286.25,359.10 L286.50,358.45 L286.75,357.72 L287.00,356.90 L287.25,355.99 L287.50,354.98 L287.75,353.90 L288.00,352.77 L288.25,351.64 L288.50,350.57 L288.75,349.64 L289.00,348.94 L289.25,348.56 L289.50,348.53 L289.75,348.87 L290.00,349.53 L290.25,350.44 L290.50,351.51 L290.75,352.65 L291.00,353.81 L291.25,354.93 L291.50,355.97 L291.75,356.93 L292.00,357.79 L292.25,358.57 L292.50,359.25 L292.75,359.86 L293.00,360.40 L293.25,360.87 L293.50,361.29 L293.75,361.66 L294.00,361.98 L294.25,362.27 L294.50,362.53 L294.75,362.76 L295.00,362.96 L295.25,363.14 L295.50,363.29 L295.75,363.44 L296.00,363.56 L296.25,363.67 L296.50,363.77 L296.75,363.85 L297.00,363.93 L297.25,363.99 L297.50,364.05 L297.75,364.09 L298.00,364.13 L298.25,364.15 L298.50,364.17 L298.75,364.18 L299.00,364.18 L299.25,364.18 L299.50,364.16 L299.75,364.13 L300.00,364.10 L300.25,364.05 L300.50,363.99 L300.75,363.91 L301.00,363.82 L301.25,363.72 L301.50,363.59 L301.75,363.45 L302.00,363.28 L302.25,363.08 L302.50,362.86 L302.75,362.60 L303.00,362.30 L303.25,361.97 L303.50,361.61 L303.75,361.21 L304.00,360.79 L304.25,360.35 L304.50,359.94 L304.75,359.56 L305.00,359.26 L305.25,359.06 L305.50,359.00 L305.75,359.08 L306.00,359.29 L306.25,359.61 L306.50,360.00 L306.75,360.44 L307.00,360.89 L307.25,361.33 L307.50,361.74 L307.75,362.13 L308.00,362.47 L308.25,362.79 L308.50,363.06 L308.75,363.31 L309.00,363.53 L309.25,363.72 L309.50,363.89 L309.75,364.03 L310.00,364.17 L310.25,364.28 L310.50,364.38 L310.75,364.47 L311.00,364.55 L311.25,364.62 L311.50,364.68 L311.75,364.73 L312.00,364.78 L312.25,364.82 L312.50,364.85 L312.75,364.88 L313.00,364.90 L313.25,364.92 L313.50,364.94 L313.75,364.95 L314.00,364.95 L314.25,364.96 L314.50,364.95 L314.75,364.95 L315.00,364.94 L315.25,364.92 L315.50,364.90 L315.75,364.88 L316.00,364.85 L316.25,364.82 L316.50,364.78 L316.75,364.73 L317.00,364.68 L317.25,364.62 L317.50,364.55 L317.75,364.47 L318.00,364.39 L318.25,364.29 L318.50,364.17 L318.75,364.04 L319.00,363.90 L319.25,363.73 L319.50,363.54 L319.75,363.33 L320.00,363.08 L320.25,362.81 L320.50,362.49 L320.75,362.14 L321.00,361.74 L321.25,361.30 L321.50,360.81 L321.75,360.29 L322.00,359.75 L322.25,359.21 L322.50,358.70 L322.75,358.25 L323.00,357.92 L323.25,357.73 L323.50,357.71 L323.75,357.87 L324.00,358.18 L324.25,358.61 L324.50,359.12 L324.75,359.66 L325.00,360.21 L325.25,360.74 L325.50,361.24 L325.75,361.69 L326.00,362.10 L326.25,362.47 L326.50,362.79 L326.75,363.08 L327.00,363.34 L327.25,363.56 L327.50,363.76 L327.75,363.94 L328.00,364.09 L328.25,364.23 L328.50,364.36 L328.75,364.47 L329.00,364.56 L329.25,364.65 L329.50,364.73 L329.75,364.80 L330.00,364.86 L330.25,364.92 L330.50,364.97 L330.75,365.02 L331.00,365.06 L331.25,365.10 L331.50,365.13 L331.75,365.16 L332.00,365.19 L332.25,365.22 L332.50,365.24 L332.75,365.26 L333.00,365.28 L333.25,365.30 L333.50,365.31 L333.75,365.32 L334.00,365.34 L334.25,365.34 L334.50,365.35 L334.75,365.36 L335.00,365.37 L335.25,365.37 L335.50,365.38 L335.75,365.38 L336.00,365.38 L336.25,365.38 L336.50,365.38 L336.75,365.38 L337.00,365.38 L337.25,365.37 L337.50,365.37 L337.75,365.37 L338.00,365.36 L338.25,365.35 L338.50,365.35 L338.75,365.34 L339.00,365.33 L339.25,365.32 L339.50,365.31 L339.75,365.29 L340.00,365.28 L340.25,365.27 L340.50,365.25 L340.75,365.24 L341.00,365.22 L341.25,365.20 L341.50,365.18 L341.75,365.16 L342.00,365.14 L342.25,365.12 L342.50,365.09 L342.75,365.07 L343.00,365.04 L343.25,365.01 L343.50,364.98 L343.75,364.95 L344.00,364.91 L344.25,364.87 L344.50,364.84 L344.75,364.80 L345.00,364.75 L345.25,364.71 L345.50,364.66 L345.75,364.61 L346.00,364.55 L346.25,364.49 L346.50,364.43 L346.75,364.37 L347.00,364.30 L347.25,364.22 L347.50,364.14 L347.75,364.06 L348.00,363.97 L348.25,363.87 L348.50,363.77 L348.75,363.65 L349.00,363.53 L349.25,363.40 L349.50,363.27 L349.75,363.12 L350.00,362.95 L350.25,362.78 L350.50,362.59 L350.75,362.38 L351.00,362.15 L351.25,361.90 L351.50,361.63 L351.75,361.34 L352.00,361.01 L352.25,360.65 L352.50,360.26 L352.75,359.82 L353.00,359.33 L353.25,358.79 L353.50,358.18 L353.75,357.50 L354.00,356.74 L354.25,355.89 L354.50,354.92 L354.75,353.83 L355.00,352.60 L355.25,351.21 L355.50,349.64 L355.75,347.87 L356.00,345.88 L356.25,343.67 L356.50,341.24 L356.75,338.60 L357.00,335.82 L357.25,332.98 L357.50,330.22 L357.75,327.75 L358.00,325.75 L358.25,324.45 L358.50,324.00 L358.75,324.45 L359.00,325.74 L359.25,327.73 L359.50,330.20 L359.75,332.95 L360.00,335.78 L360.25,338.56 L360.50,341.19 L360.75,343.62 L361.00,345.83 L361.25,347.81 L361.50,349.57 L361.75,351.14 L362.00,352.52 L362.25,353.74 L362.50,354.83 L362.75,355.78 L363.00,356.63 L363.25,357.39 L363.50,358.06 L363.75,358.66 L364.00,359.19 L364.25,359.67 L364.50,360.10 L364.75,360.49 L365.00,360.84 L365.25,361.16 L365.50,361.45 L365.75,361.71 L366.00,361.95 L366.25,362.17 L366.50,362.37 L366.75,362.55 L367.00,362.72 L367.25,362.87 L367.50,363.01 L367.75,363.14 L368.00,363.26 L368.25,363.37 L368.50,363.47 L368.75,363.56 L369.00,363.64 L369.25,363.72 L369.50,363.79 L369.75,363.86 L370.00,363.92 L370.25,363.97 L370.50,364.02 L370.75,364.07 L371.00,364.11 L371.25,364.15 L371.50,364.18 L371.75,364.21 L372.00,364.23 L372.25,364.26 L372.50,364.28 L372.75,364.29 L373.00,364.30 L373.25,364.31 L373.50,364.32 L373.75,364.32 L374.00,364.32 L374.25,364.31 L374.50,364.30 L374.75,364.29 L375.00,364.28 L375.25,364.26 L375.50,364.24 L375.75,364.21 L376.00,364.18 L376.25,364.14 L376.50,364.10 L376.75,364.05 L377.00,364.00 L377.25,363.94 L377.50,363.88 L377.75,363.80 L378.00,363.72 L378.25,363.63 L378.50,363.54 L378.75,363.43 L379.00,363.30 L379.25,363.17 L379.50,363.01 L379.75,362.85 L380.00,362.66 L380.25,362.45 L380.50,362.21 L380.75,361.95 L381.00,361.65 L381.25,361.32 L381.50,360.94 L381.75,360.52 L382.00,360.05 L382.25,359.52 L382.50,358.93 L382.75,358.28 L383.00,357.58 L383.25,356.82 L383.50,356.03 L383.75,355.24 L384.00,354.48 L384.25,353.81 L384.50,353.25 L384.75,352.86 L385.00,352.64 L385.25,352.57 L385.50,352.64 L385.75,352.78 L386.00,352.93 L386.25,353.06 L386.50,353.11 L386.75,353.05 L387.00,352.87 L387.25,352.54 L387.50,352.05 L387.75,351.42 L388.00,350.62 L388.25,349.70 L388.50,348.66 L388.75,347.57 L389.00,346.48 L389.25,345.51 L389.50,344.74 L389.75,344.28 L390.00,344.20 L390.25,344.54 L390.50,345.26 L390.75,346.30 L391.00,347.57 L391.25,348.95 L391.50,350.36 L391.75,351.75 L392.00,353.06 L392.25,354.26 L392.50,355.36 L392.75,356.34 L393.00,357.22 L393.25,358.00 L393.50,358.69 L393.75,359.30 L394.00,359.84 L394.25,360.31 L394.50,360.74 L394.75,361.12 L395.00,361.45 L395.25,361.75 L395.50,362.02 L395.75,362.26 L396.00,362.47 L396.25,362.66 L396.50,362.84 L396.75,362.99 L397.00,363.13 L397.25,363.26 L397.50,363.37 L397.75,363.47 L398.00,363.56 L398.25,363.64 L398.50,363.72 L398.75,363.78 L399.00,363.84 L399.25,363.88 L399.50,363.93 L399.75,363.96 L400.00,363.99 L400.25,364.01 L400.50,364.03 L400.75,364.04 L401.00,364.04 L401.25,364.04 L401.50,364.03 L401.75,364.01 L402.00,363.99 L402.25,363.96 L402.50,363.92 L402.75,363.87 L403.00,363.82 L403.25,363.75 L403.50,363.68 L403.75,363.59 L404.00,363.48 L404.25,363.37 L404.50,363.23 L404.75,363.08 L405.00,362.91 L405.25,362.71 L405.50,362.48 L405.75,362.22 L406.00,361.93 L406.25,361.59 L406.50,361.21 L406.75,360.78 L407.00,360.29 L407.25,359.74 L407.50,359.14 L407.75,358.47 L408.00,357.77 L408.25,357.03 L408.50,356.30 L408.75,355.62 L409.00,355.05 L409.25,354.63 L409.50,354.42 L409.75,354.44 L410.00,354.69 L410.25,355.15 L410.50,355.74 L410.75,356.44 L411.00,357.17 L411.25,357.90 L411.50,358.60 L411.75,359.25 L412.00,359.84 L412.25,360.38 L412.50,360.85 L412.75,361.27 L413.00,361.64 L413.25,361.97 L413.50,362.25 L413.75,362.50 L414.00,362.72 L414.25,362.91 L414.50,363.08 L414.75,363.23 L415.00,363.35 L415.25,363.46 L415.50,363.56 L415.75,363.64 L416.00,363.72 L416.25,363.78 L416.50,363.83 L416.75,363.87 L417.00,363.90 L417.25,363.93 L417.50,363.95 L417.75,363.96 L418.00,363.96 L418.25,363.96 L418.50,363.95 L418.75,363.93 L419.00,363.91 L419.25,363.88 L419.50,363.85 L419.75,363.81 L420.00,363.76 L420.25,363.70 L420.50,363.64 L420.75,363.56 L421.00,363.48 L421.25,363.39 L421.50,363.29 L421.75,363.17 L422.00,363.05 L422.25,362.91 L422.50,362.75 L422.75,362.58 L423.00,362.39 L423.25,362.17 L423.50,361.94 L423.75,361.67 L424.00,361.38 L424.25,361.05 L424.50,360.68 L424.75,360.26 L425.00,359.79 L425.25,359.27 L425.50,358.67 L425.75,358.00 L426.00,357.24 L426.25,356.38 L426.50,355.41 L426.75,354.32 L427.00,353.08 L427.25,351.71 L427.50,350.20 L427.75,348.57 L428.00,346.84 L428.25,345.08 L428.50,343.37 L428.75,341.83 L429.00,340.60 L429.25,339.79 L429.50,339.50 L429.75,339.77 L430.00,340.57 L430.25,341.79 L430.50,343.31 L430.75,345.00 L431.00,346.75 L431.25,348.46 L431.50,350.08 L431.75,351.57 L432.00,352.92 L432.25,354.14 L432.50,355.21 L432.75,356.17 L433.00,357.01 L433.25,357.75 L433.50,358.40 L433.75,358.97 L434.00,359.48 L434.25,359.92 L434.50,360.32 L434.75,360.66 L435.00,360.97 L435.25,361.24 L435.50,361.48 L435.75,361.69 L436.00,361.87 L436.25,362.03 L436.50,362.17 L436.75,362.30 L437.00,362.40 L437.25,362.49 L437.50,362.56 L437.75,362.63 L438.00,362.67 L438.25,362.71 L438.50,362.73 L438.75,362.75 L439.00,362.75 L439.25,362.74 L439.50,362.72 L439.75,362.68 L440.00,362.64 L440.25,362.58 L440.50,362.51 L440.75,362.43 L441.00,362.34 L441.25,362.23 L441.50,362.11 L441.75,361.96 L442.00,361.80 L442.25,361.63 L442.50,361.42 L442.75,361.20 L443.00,360.95 L443.25,360.67 L443.50,360.35 L443.75,360.00 L444.00,359.60 L444.25,359.16 L444.50,358.67 L444.75,358.11 L445.00,357.48 L445.25,356.77 L445.50,355.97 L445.75,355.06 L446.00,354.04 L446.25,352.87 L446.50,351.55 L446.75,350.06 L447.00,348.38 L447.25,346.49 L447.50,344.39 L447.75,342.08 L448.00,339.59 L448.25,336.97 L448.50,334.33 L448.75,331.80 L449.00,329.56 L449.25,327.82 L449.50,326.76 L449.75,326.52 L450.00,327.12 L450.25,328.49 L450.50,330.47 L450.75,332.87 L451.00,335.48 L451.25,338.15 L451.50,340.75 L451.75,343.19 L452.00,345.44 L452.25,347.48 L452.50,349.31 L452.75,350.93 L453.00,352.38 L453.25,353.65 L453.50,354.78 L453.75,355.78 L454.00,356.67 L454.25,357.46 L454.50,358.16 L454.75,358.79 L455.00,359.35 L455.25,359.85 L455.50,360.30 L455.75,360.71 L456.00,361.08 L456.25,361.41 L456.50,361.72 L456.75,361.99 L457.00,362.25 L457.25,362.48 L457.50,362.69 L457.75,362.89 L458.00,363.07 L458.25,363.23 L458.50,363.39 L458.75,363.53 L459.00,363.66 L459.25,363.78 L459.50,363.90 L459.75,364.01 L460.00,364.11 L460.25,364.20 L460.50,364.29 L460.75,364.37 L461.00,364.45 L461.25,364.52 L461.50,364.59 L461.75,364.65 L462.00,364.71 L462.25,364.77 L462.50,364.83 L462.75,364.88 L463.00,364.93 L463.25,364.97 L463.50,365.02 L463.75,365.06 L464.00,365.10 L464.25,365.14 L464.50,365.17 L464.75,365.21 L465.00,365.24 L465.25,365.27 L465.50,365.30 L465.75,365.33 L466.00,365.36 L466.25,365.39 L466.50,365.41 L466.75,365.44 L467.00,365.46 L467.25,365.48 L467.50,365.50 L467.75,365.53 L468.00,365.55 L468.25,365.56 L468.50,365.58 L468.75,365.60 L469.00,365.62 L469.25,365.64 L469.50,365.65 L469.75,365.67 L470.00,365.68 L470.25,365.70 L470.50,365.71 L470.75,365.72 L471.00,365.74 L471.25,365.75 L471.50,365.76 L471.75,365.77 L472.00,365.79 L472.25,365.80 L472.50,365.81 L472.75,365.82 L473.00,365.83 L473.25,365.84 L473.50,365.85 L473.75,365.86 L474.00,365.87 L474.25,365.88 L474.50,365.88 L474.75,365.89 L475.00,365.90 L475.25,365.91 L475.50,365.92 L475.75,365.92 L476.00,365.93 L476.25,365.94 L476.50,365.95 L476.75,365.95 L477.00,365.96 L477.25,365.96 L477.50,365.97 L477.75,365.98 L478.00,365.98 L478.25,365.99 L478.50,365.99 L478.75,366.00 L479.00,366.01 L479.25,366.01 L479.50,366.02 L479.75,366.02 L480.00,366.03 L480.25,366.03 L480.50,366.04 L480.75,366.04 L481.00,366.05 L481.25,366.05 L481.50,366.05 L481.75,366.06 L482.00,366.06 L482.25,366.07 L482.50,366.07 L482.75,366.07 L483.00,366.08 L483.25,366.08 L483.50,366.09 L483.75,366.09 L484.00,366.09 L484.25,366.10 L484.50,366.10 L484.75,366.10 L485.00,366.11 L485.25,366.11 L485.50,366.11 L485.75,366.12 L486.00,366.12 L486.25,366.12 L486.50,366.13 L486.75,366.13 L487.00,366.13 L487.25,366.13 L487.50,366.14 L487.75,366.14 L488.00,366.14 L488.25,366.14 L488.50,366.15 L488.75,366.15 L489.00,366.15 L489.25,366.15 L489.50,366.16 L489.75,366.16 L490.00,366.16 L490.25,366.16 L490.50,366.17 L490.75,366.17 L491.00,366.17 L491.25,366.17 L491.50,366.17 L491.75,366.18 L492.00,366.18 L492.25,366.18 L492.50,366.18 L492.75,366.18 L493.00,366.19 L493.25,366.19 L493.50,366.19 L493.75,366.19 L494.00,366.19 L494.25,366.20 L494.50,366.20 L494.75,366.20 L495.00,366.20 L495.25,366.20 L495.50,366.20 L495.75,366.21 L496.00,366.21 L496.25,366.21 L496.50,366.21 L496.75,366.21 L497.00,366.21 L497.25,366.21 L497.50,366.22 L497.75,366.22 L498.00,366.22 L498.25,366.22 L498.50,366.22 L498.75,366.22 L499.00,366.22 L499.25,366.23 L499.50,366.23 L499.75,366.23 L500.00,366.23 L500.25,366.23 L500.50,366.23 L500.75,366.23 L501.00,366.23 L501.25,366.24 L501.50,366.24 L501.75,366.24 L502.00,366.24 L502.25,366.24 L502.50,366.24 L502.75,366.24 L503.00,366.24" fill="none" stroke="#e6404a" stroke-width="1.25" stroke-linejoin="round"/><path d="M51.00,366.35 L51.25,366.35 L51.50,366.35 L51.75,366.35 L52.00,366.35 L52.25,366.35 L52.50,366.35 L52.75,366.35 L53.00,366.35 L53.25,366.35 L53.50,366.35 L53.75,366.35 L54.00,366.35 L54.25,366.35 L54.50,366.35 L54.75,366.35 L55.00,366.35 L55.25,366.35 L55.50,366.35 L55.75,366.35 L56.00,366.35 L56.25,366.35 L56.50,366.35 L56.75,366.35 L57.00,366.35 L57.25,366.35 L57.50,366.35 L57.75,366.35 L58.00,366.35 L58.25,366.35 L58.50,366.35 L58.75,366.35 L59.00,366.35 L59.25,366.35 L59.50,366.35 L59.75,366.35 L60.00,366.35 L60.25,366.35 L60.50,366.35 L60.75,366.35 L61.00,366.35 L61.25,366.35 L61.50,366.35 L61.75,366.35 L62.00,366.35 L62.25,366.35 L62.50,366.35 L62.75,366.35 L63.00,366.35 L63.25,366.35 L63.50,366.35 L63.75,366.34 L64.00,366.34 L64.25,366.34 L64.50,366.34 L64.75,366.34 L65.00,366.34 L65.25,366.34 L65.50,366.34 L65.75,366.34 L66.00,366.34 L66.25,366.34 L66.50,366.34 L66.75,366.34 L67.00,366.34 L67.25,366.34 L67.50,366.34 L67.75,366.34 L68.00,366.34 L68.25,366.34 L68.50,366.34 L68.75,366.34 L69.00,366.34 L69.25,366.34 L69.50,366.34 L69.75,366.34 L70.00,366.34 L70.25,366.34 L70.50,366.34 L70.75,366.34 L71.00,366.34 L71.25,366.34 L71.50,366.34 L71.75,366.34 L72.00,366.34 L72.25,366.34 L72.50,366.34 L72.75,366.34 L73.00,366.34 L73.25,366.34 L73.50,366.34 L73.75,366.34 L74.00,366.34 L74.25,366.33 L74.50,366.33 L74.75,366.33 L75.00,366.33 L75.25,366.33 L75.50,366.33 L75.75,366.33 L76.00,366.33 L76.25,366.33 L76.50,366.33 L76.75,366.33 L77.00,366.33 L77.25,366.33 L77.50,366.33 L77.75,366.33 L78.00,366.33 L78.25,366.33 L78.50,366.33 L78.75,366.33 L79.00,366.33 L79.25,366.33 L79.50,366.33 L79.75,366.33 L80.00,366.33 L80.25,366.33 L80.50,366.33 L80.75,366.33 L81.00,366.33 L81.25,366.33 L81.50,366.33 L81.75,366.33 L82.00,366.33 L82.25,366.32 L82.50,366.32 L82.75,366.32 L83.00,366.32 L83.25,366.32 L83.50,366.32 L83.75,366.32 L84.00,366.32 L84.25,366.32 L84.50,366.32 L84.75,366.32 L85.00,366.32 L85.25,366.32 L85.50,366.32 L85.75,366.32 L86.00,366.32 L86.25,366.32 L86.50,366.32 L86.75,366.32 L87.00,366.32 L87.25,366.32 L87.50,366.32 L87.75,366.32 L88.00,366.32 L88.25,366.32 L88.50,366.31 L88.75,366.31 L89.00,366.31 L89.25,366.31 L89.50,366.31 L89.75,366.31 L90.00,366.31 L90.25,366.31 L90.50,366.31 L90.75,366.31 L91.00,366.31 L91.25,366.31 L91.50,366.31 L91.75,366.31 L92.00,366.31 L92.25,366.31 L92.50,366.31 L92.75,366.31 L93.00,366.31 L93.25,366.31 L93.50,366.31 L93.75,366.30 L94.00,366.30 L94.25,366.30 L94.50,366.30 L94.75,366.30 L95.00,366.30 L95.25,366.30 L95.50,366.30 L95.75,366.30 L96.00,366.30 L96.25,366.30 L96.50,366.30 L96.75,366.30 L97.00,366.30 L97.25,366.30 L97.50,366.30 L97.75,366.30 L98.00,366.29 L98.25,366.29 L98.50,366.29 L98.75,366.29 L99.00,366.29 L99.25,366.29 L99.50,366.29 L99.75,366.29 L100.00,366.29 L100.25,366.29 L100.50,366.29 L100.75,366.29 L101.00,366.29 L101.25,366.29 L101.50,366.28 L101.75,366.28 L102.00,366.28 L102.25,366.28 L102.50,366.28 L102.75,366.28 L103.00,366.28 L103.25,366.28 L103.50,366.28 L103.75,366.28 L104.00,366.28 L104.25,366.28 L104.50,366.27 L104.75,366.27 L105.00,366.27 L105.25,366.27 L105.50,366.27 L105.75,366.27 L106.00,366.27 L106.25,366.27 L106.50,366.27 L106.75,366.27 L107.00,366.27 L107.25,366.26 L107.50,366.26 L107.75,366.26 L108.00,366.26 L108.25,366.26 L108.50,366.26 L108.75,366.26 L109.00,366.26 L109.25,366.26 L109.50,366.26 L109.75,366.25 L110.00,366.25 L110.25,366.25 L110.50,366.25 L110.75,366.25 L111.00,366.25 L111.25,366.25 L111.50,366.25 L111.75,366.24 L112.00,366.24 L112.25,366.24 L112.50,366.24 L112.75,366.24 L113.00,366.24 L113.25,366.24 L113.50,366.23 L113.75,366.23 L114.00,366.23 L114.25,366.23 L114.50,366.23 L114.75,366.23 L115.00,366.23 L115.25,366.22 L115.50,366.22 L115.75,366.22 L116.00,366.22 L116.25,366.22 L116.50,366.22 L116.75,366.21 L117.00,366.21 L117.25,366.21 L117.50,366.21 L117.75,366.21 L118.00,366.20 L118.25,366.20 L118.50,366.20 L118.75,366.20 L119.00,366.20 L119.25,366.19 L119.50,366.19 L119.75,366.19 L120.00,366.19 L120.25,366.19 L120.50,366.18 L120.75,366.18 L121.00,366.18 L121.25,366.18 L121.50,366.17 L121.75,366.17 L122.00,366.17 L122.25,366.17 L122.50,366.16 L122.75,366.16 L123.00,366.16 L123.25,366.15 L123.50,366.15 L123.75,366.15 L124.00,366.15 L124.25,366.14 L124.50,366.14 L124.75,366.14 L125.00,366.13 L125.25,366.13 L125.50,366.13 L125.75,366.12 L126.00,366.12 L126.25,366.11 L126.50,366.11 L126.75,366.11 L127.00,366.10 L127.25,366.10 L127.50,366.09 L127.75,366.09 L128.00,366.08 L128.25,366.08 L128.50,366.08 L128.75,366.07 L129.00,366.07 L129.25,366.06 L129.50,366.05 L129.75,366.05 L130.00,366.04 L130.25,366.04 L130.50,366.03 L130.75,366.03 L131.00,366.02 L131.25,366.01 L131.50,366.01 L131.75,366.00 L132.00,365.99 L132.25,365.98 L132.50,365.98 L132.75,365.97 L133.00,365.96 L133.25,365.95 L133.50,365.94 L133.75,365.93 L134.00,365.93 L134.25,365.92 L134.50,365.91 L134.75,365.90 L135.00,365.88 L135.25,365.87 L135.50,365.86 L135.75,365.85 L136.00,365.84 L136.25,365.82 L136.50,365.81 L136.75,365.79 L137.00,365.78 L137.25,365.76 L137.50,365.75 L137.75,365.73 L138.00,365.71 L138.25,365.69 L138.50,365.67 L138.75,365.65 L139.00,365.63 L139.25,365.60 L139.50,365.58 L139.75,365.55 L140.00,365.52 L140.25,365.49 L140.50,365.46 L140.75,365.43 L141.00,365.39 L141.25,365.35 L141.50,365.31 L141.75,365.27 L142.00,365.22 L142.25,365.17 L142.50,365.11 L142.75,365.05 L143.00,364.98 L143.25,364.91 L143.50,364.83 L143.75,364.74 L144.00,364.65 L144.25,364.54 L144.50,364.42 L144.75,364.29 L145.00,364.15 L145.25,363.99 L145.50,363.81 L145.75,363.61 L146.00,363.40 L146.25,363.17 L146.50,362.92 L146.75,362.67 L147.00,362.41 L147.25,362.17 L147.50,361.94 L147.75,361.75 L148.00,361.60 L148.25,361.49 L148.50,361.43 L148.75,361.39 L149.00,361.36 L149.25,361.33 L149.50,361.29 L149.75,361.22 L150.00,361.12 L150.25,360.99 L150.50,360.82 L150.75,360.62 L151.00,360.40 L151.25,360.16 L151.50,359.93 L151.75,359.70 L152.00,359.50 L152.25,359.32 L152.50,359.14 L152.75,358.98 L153.00,358.79 L153.25,358.57 L153.50,358.30 L153.75,357.97 L154.00,357.55 L154.25,357.04 L154.50,356.43 L154.75,355.70 L155.00,354.85 L155.25,353.87 L155.50,352.74 L155.75,351.48 L156.00,350.09 L156.25,348.60 L156.50,347.06 L156.75,345.54 L157.00,344.15 L157.25,343.01 L157.50,342.23 L157.75,341.90 L158.00,342.09 L158.25,342.75 L158.50,343.83 L158.75,345.20 L159.00,346.74 L159.25,348.35 L159.50,349.94 L159.75,351.46 L160.00,352.87 L160.25,354.15 L160.50,355.30 L160.75,356.32 L161.00,357.23 L161.25,358.04 L161.50,358.75 L161.75,359.38 L162.00,359.94 L162.25,360.43 L162.50,360.87 L162.75,361.25 L163.00,361.60 L163.25,361.91 L163.50,362.18 L163.75,362.43 L164.00,362.65 L164.25,362.85 L164.50,363.03 L164.75,363.19 L165.00,363.33 L165.25,363.46 L165.50,363.58 L165.75,363.68 L166.00,363.77 L166.25,363.86 L166.50,363.93 L166.75,364.00 L167.00,364.06 L167.25,364.11 L167.50,364.15 L167.75,364.19 L168.00,364.22 L168.25,364.24 L168.50,364.26 L168.75,364.28 L169.00,364.28 L169.25,364.28 L169.50,364.27 L169.75,364.26 L170.00,364.24 L170.25,364.22 L170.50,364.18 L170.75,364.14 L171.00,364.09 L171.25,364.03 L171.50,363.95 L171.75,363.87 L172.00,363.78 L172.25,363.67 L172.50,363.54 L172.75,363.39 L173.00,363.23 L173.25,363.04 L173.50,362.82 L173.75,362.58 L174.00,362.30 L174.25,361.98 L174.50,361.61 L174.75,361.20 L175.00,360.73 L175.25,360.21 L175.50,359.63 L175.75,358.99 L176.00,358.31 L176.25,357.61 L176.50,356.91 L176.75,356.26 L177.00,355.71 L177.25,355.31 L177.50,355.12 L177.75,355.14 L178.00,355.39 L178.25,355.83 L178.50,356.42 L178.75,357.09 L179.00,357.80 L179.25,358.51 L179.50,359.20 L179.75,359.83 L180.00,360.41 L180.25,360.93 L180.50,361.40 L180.75,361.82 L181.00,362.18 L181.25,362.51 L181.50,362.79 L181.75,363.05 L182.00,363.27 L182.25,363.47 L182.50,363.65 L182.75,363.80 L183.00,363.94 L183.25,364.07 L183.50,364.18 L183.75,364.28 L184.00,364.37 L184.25,364.45 L184.50,364.52 L184.75,364.58 L185.00,364.64 L185.25,364.70 L185.50,364.74 L185.75,364.79 L186.00,364.83 L186.25,364.86 L186.50,364.89 L186.75,364.92 L187.00,364.94 L187.25,364.97 L187.50,364.98 L187.75,365.00 L188.00,365.02 L188.25,365.03 L188.50,365.04 L188.75,365.05 L189.00,365.05 L189.25,365.06 L189.50,365.06 L189.75,365.06 L190.00,365.06 L190.25,365.06 L190.50,365.06 L190.75,365.05 L191.00,365.05 L191.25,365.04 L191.50,365.03 L191.75,365.02 L192.00,365.01 L192.25,364.99 L192.50,364.98 L192.75,364.96 L193.00,364.95 L193.25,364.93 L193.50,364.90 L193.75,364.88 L194.00,364.86 L194.25,364.83 L194.50,364.80 L194.75,364.77 L195.00,364.74 L195.25,364.70 L195.50,364.67 L195.75,364.63 L196.00,364.59 L196.25,364.54 L196.50,364.49 L196.75,364.44 L197.00,364.39 L197.25,364.33 L197.50,364.27 L197.75,364.20 L198.00,364.13 L198.25,364.06 L198.50,363.98 L198.75,363.90 L199.00,363.81 L199.25,363.71 L199.50,363.60 L199.75,363.49 L200.00,363.37 L200.25,363.24 L200.50,363.11 L200.75,362.96 L201.00,362.79 L201.25,362.62 L201.50,362.43 L201.75,362.22 L202.00,361.99 L202.25,361.75 L202.50,361.48 L202.75,361.18 L203.00,360.86 L203.25,360.50 L203.50,360.11 L203.75,359.67 L204.00,359.18 L204.25,358.64 L204.50,358.04 L204.75,357.37 L205.00,356.61 L205.25,355.77 L205.50,354.82 L205.75,353.76 L206.00,352.58 L206.25,351.26 L206.50,349.81 L206.75,348.24 L207.00,346.56 L207.25,344.80 L207.50,343.04 L207.75,341.34 L208.00,339.80 L208.25,338.50 L208.50,337.50 L208.75,336.81 L209.00,336.40 L209.25,336.17 L209.50,336.02 L209.75,335.82 L210.00,335.48 L210.25,334.91 L210.50,334.08 L210.75,332.94 L211.00,331.54 L211.25,329.90 L211.50,328.15 L211.75,326.41 L212.00,324.87 L212.25,323.74 L212.50,323.20 L212.75,323.40 L213.00,324.36 L213.25,326.03 L213.50,328.25 L213.75,330.84 L214.00,333.62 L214.25,336.42 L214.50,339.12 L214.75,341.66 L215.00,344.00 L215.25,346.12 L215.50,348.01 L215.75,349.71 L216.00,351.21 L216.25,352.55 L216.50,353.73 L216.75,354.78 L217.00,355.72 L217.25,356.55 L217.50,357.29 L217.75,357.96 L218.00,358.55 L218.25,359.09 L218.50,359.57 L218.75,360.01 L219.00,360.41 L219.25,360.77 L219.50,361.10 L219.75,361.40 L220.00,361.68 L220.25,361.93 L220.50,362.16 L220.75,362.37 L221.00,362.57 L221.25,362.75 L221.50,362.92 L221.75,363.08 L222.00,363.23 L222.25,363.36 L222.50,363.49 L222.75,363.61 L223.00,363.72 L223.25,363.82 L223.50,363.92 L223.75,364.01 L224.00,364.10 L224.25,364.18 L224.50,364.26 L224.75,364.33 L225.00,364.40 L225.25,364.46 L225.50,364.52 L225.75,364.58 L226.00,364.64 L226.25,364.69 L226.50,364.74 L226.75,364.78 L227.00,364.83 L227.25,364.87 L227.50,364.91 L227.75,364.95 L228.00,364.99 L228.25,365.02 L228.50,365.05 L228.75,365.09 L229.00,365.12 L229.25,365.15 L229.50,365.17 L229.75,365.20 L230.00,365.23 L230.25,365.25 L230.50,365.27 L230.75,365.30 L231.00,365.32 L231.25,365.34 L231.50,365.36 L231.75,365.38 L232.00,365.40 L232.25,365.41 L232.50,365.43 L232.75,365.45 L233.00,365.46 L233.25,365.48 L233.50,365.49 L233.75,365.51 L234.00,365.52 L234.25,365.53 L234.50,365.55 L234.75,365.56 L235.00,365.57 L235.25,365.58 L235.50,365.59 L235.75,365.60 L236.00,365.61 L236.25,365.62 L236.50,365.63 L236.75,365.64 L237.00,365.65 L237.25,365.66 L237.50,365.66 L237.75,365.67 L238.00,365.68 L238.25,365.69 L238.50,365.69 L238.75,365.70 L239.00,365.71 L239.25,365.71 L239.50,365.72 L239.75,365.72 L240.00,365.73 L240.25,365.73 L240.50,365.74 L240.75,365.74 L241.00,365.75 L241.25,365.75 L241.50,365.76 L241.75,365.76 L242.00,365.76 L242.25,365.77 L242.50,365.77 L242.75,365.77 L243.00,365.78 L243.25,365.78 L243.50,365.78 L243.75,365.78 L244.00,365.79 L244.25,365.79 L244.50,365.79 L244.75,365.79 L245.00,365.79 L245.25,365.80 L245.50,365.80 L245.75,365.80 L246.00,365.80 L246.25,365.80 L246.50,365.80 L246.75,365.80 L247.00,365.80 L247.25,365.80 L247.50,365.80 L247.75,365.80 L248.00,365.80 L248.25,365.80 L248.50,365.80 L248.75,365.80 L249.00,365.80 L249.25,365.80 L249.50,365.80 L249.75,365.80 L250.00,365.80 L250.25,365.80 L250.50,365.80 L250.75,365.80 L251.00,365.79 L251.25,365.79 L251.50,365.79 L251.75,365.79 L252.00,365.79 L252.25,365.78 L252.50,365.78 L252.75,365.78 L253.00,365.78 L253.25,365.77 L253.50,365.77 L253.75,365.77 L254.00,365.76 L254.25,365.76 L254.50,365.76 L254.75,365.75 L255.00,365.75 L255.25,365.74 L255.50,365.74 L255.75,365.74 L256.00,365.73 L256.25,365.73 L256.50,365.72 L256.75,365.72 L257.00,365.71 L257.25,365.70 L257.50,365.70 L257.75,365.69 L258.00,365.69 L258.25,365.68 L258.50,365.67 L258.75,365.66 L259.00,365.66 L259.25,365.65 L259.50,365.64 L259.75,365.63 L260.00,365.63 L260.25,365.62 L260.50,365.61 L260.75,365.60 L261.00,365.59 L261.25,365.58 L261.50,365.57 L261.75,365.56 L262.00,365.55 L262.25,365.54 L262.50,365.52 L262.75,365.51 L263.00,365.50 L263.25,365.49 L263.50,365.47 L263.75,365.46 L264.00,365.44 L264.25,365.43 L264.50,365.41 L264.75,365.40 L265.00,365.38 L265.25,365.36 L265.50,365.35 L265.75,365.33 L266.00,365.31 L266.25,365.29 L266.50,365.27 L266.75,365.25 L267.00,365.23 L267.25,365.20 L267.50,365.18 L267.75,365.15 L268.00,365.13 L268.25,365.10 L268.50,365.07 L268.75,365.05 L269.00,365.02 L269.25,364.98 L269.50,364.95 L269.75,364.92 L270.00,364.88 L270.25,364.85 L270.50,364.81 L270.75,364.77 L271.00,364.72 L271.25,364.68 L271.50,364.64 L271.75,364.59 L272.00,364.54 L272.25,364.48 L272.50,364.43 L272.75,364.37 L273.00,364.31 L273.25,364.25 L273.50,364.18 L273.75,364.11 L274.00,364.03 L274.25,363.96 L274.50,363.87 L274.75,363.79 L275.00,363.69 L275.25,363.60 L275.50,363.49 L275.75,363.38 L276.00,363.27 L276.25,363.14 L276.50,363.01 L276.75,362.87 L277.00,362.72 L277.25,362.56 L277.50,362.39 L277.75,362.21 L278.00,362.01 L278.25,361.80 L278.50,361.58 L278.75,361.34 L279.00,361.07 L279.25,360.79 L279.50,360.48 L279.75,360.15 L280.00,359.79 L280.25,359.39 L280.50,358.96 L280.75,358.49 L281.00,357.97 L281.25,357.40 L281.50,356.77 L281.75,356.08 L282.00,355.31 L282.25,354.46 L282.50,353.51 L282.75,352.45 L283.00,351.26 L283.25,349.93 L283.50,348.43 L283.75,346.74 L284.00,344.83 L284.25,342.68 L284.50,340.24 L284.75,337.48 L285.00,334.38 L285.25,330.91 L285.50,327.05 L285.75,322.81 L286.00,318.24 L286.25,313.44 L286.50,308.59 L286.75,303.95 L287.00,299.85 L287.25,296.65 L287.50,294.70 L287.75,294.23 L288.00,295.30 L288.25,297.77 L288.50,301.37 L288.75,305.72 L289.00,310.46 L289.25,315.31 L289.50,320.02 L289.75,324.45 L290.00,328.53 L290.25,332.23 L290.50,335.54 L290.75,338.48 L291.00,341.09 L291.25,343.40 L291.50,345.44 L291.75,347.24 L292.00,348.83 L292.25,350.25 L292.50,351.50 L292.75,352.62 L293.00,353.62 L293.25,354.51 L293.50,355.31 L293.75,356.03 L294.00,356.67 L294.25,357.25 L294.50,357.78 L294.75,358.25 L295.00,358.68 L295.25,359.07 L295.50,359.43 L295.75,359.75 L296.00,360.04 L296.25,360.30 L296.50,360.54 L296.75,360.75 L297.00,360.95 L297.25,361.12 L297.50,361.28 L297.75,361.42 L298.00,361.54 L298.25,361.65 L298.50,361.74 L298.75,361.81 L299.00,361.87 L299.25,361.91 L299.50,361.94 L299.75,361.95 L300.00,361.95 L300.25,361.93 L300.50,361.89 L300.75,361.83 L301.00,361.75 L301.25,361.64 L301.50,361.51 L301.75,361.35 L302.00,361.16 L302.25,360.93 L302.50,360.65 L302.75,360.34 L303.00,359.97 L303.25,359.54 L303.50,359.05 L303.75,358.49 L304.00,357.86 L304.25,357.15 L304.50,356.38 L304.75,355.56 L305.00,354.71 L305.25,353.88 L305.50,353.11 L305.75,352.49 L306.00,352.07 L306.25,351.90 L306.50,352.01 L306.75,352.40 L307.00,353.01 L307.25,353.79 L307.50,354.67 L307.75,355.58 L308.00,356.48 L308.25,357.34 L308.50,358.14 L308.75,358.87 L309.00,359.52 L309.25,360.11 L309.50,360.63 L309.75,361.10 L310.00,361.51 L310.25,361.88 L310.50,362.20 L310.75,362.49 L311.00,362.75 L311.25,362.98 L311.50,363.19 L311.75,363.38 L312.00,363.55 L312.25,363.70 L312.50,363.84 L312.75,363.97 L313.00,364.08 L313.25,364.19 L313.50,364.28 L313.75,364.37 L314.00,364.46 L314.25,364.53 L314.50,364.60 L314.75,364.67 L315.00,364.73 L315.25,364.78 L315.50,364.84 L315.75,364.89 L316.00,364.93 L316.25,364.97 L316.50,365.02 L316.75,365.05 L317.00,365.09 L317.25,365.12 L317.50,365.15 L317.75,365.18 L318.00,365.21 L318.25,365.24 L318.50,365.27 L318.75,365.29 L319.00,365.31 L319.25,365.33 L319.50,365.35 L319.75,365.37 L320.00,365.39 L320.25,365.41 L320.50,365.43 L320.75,365.44 L321.00,365.46 L321.25,365.47 L321.50,365.49 L321.75,365.50 L322.00,365.51 L322.25,365.52 L322.50,365.54 L322.75,365.55 L323.00,365.56 L323.25,365.57 L323.50,365.58 L323.75,365.58 L324.00,365.59 L324.25,365.60 L324.50,365.61 L324.75,365.62 L325.00,365.62 L325.25,365.63 L325.50,365.64 L325.75,365.64 L326.00,365.65 L326.25,365.65 L326.50,365.66 L326.75,365.66 L327.00,365.67 L327.25,365.67 L327.50,365.67 L327.75,365.68 L328.00,365.68 L328.25,365.68 L328.50,365.69 L328.75,365.69 L329.00,365.69 L329.25,365.69 L329.50,365.69 L329.75,365.69 L330.00,365.70 L330.25,365.70 L330.50,365.70 L330.75,365.70 L331.00,365.70 L331.25,365.70 L331.50,365.70 L331.75,365.69 L332.00,365.69 L332.25,365.69 L332.50,365.69 L332.75,365.69 L333.00,365.69 L333.25,365.68 L333.50,365.68 L333.75,365.68 L334.00,365.67 L334.25,365.67 L334.50,365.67 L334.75,365.66 L335.00,365.66 L335.25,365.65 L335.50,365.65 L335.75,365.64 L336.00,365.63 L336.25,365.63 L336.50,365.62 L336.75,365.61 L337.00,365.60 L337.25,365.60 L337.50,365.59 L337.75,365.58 L338.00,365.57 L338.25,365.56 L338.50,365.55 L338.75,365.53 L339.00,365.52 L339.25,365.51 L339.50,365.49 L339.75,365.48 L340.00,365.46 L340.25,365.45 L340.50,365.43 L340.75,365.41 L341.00,365.39 L341.25,365.37 L341.50,365.35 L341.75,365.33 L342.00,365.30 L342.25,365.28 L342.50,365.25 L342.75,365.22 L343.00,365.19 L343.25,365.16 L343.50,365.12 L343.75,365.09 L344.00,365.05 L344.25,365.00 L344.50,364.96 L344.75,364.91 L345.00,364.86 L345.25,364.80 L345.50,364.74 L345.75,364.68 L346.00,364.61 L346.25,364.54 L346.50,364.46 L346.75,364.37 L347.00,364.27 L347.25,364.17 L347.50,364.06 L347.75,363.93 L348.00,363.80 L348.25,363.65 L348.50,363.49 L348.75,363.30 L349.00,363.10 L349.25,362.88 L349.50,362.63 L349.75,362.36 L350.00,362.05 L350.25,361.70 L350.50,361.31 L350.75,360.87 L351.00,360.37 L351.25,359.81 L351.50,359.18 L351.75,358.47 L352.00,357.69 L352.25,356.82 L352.50,355.88 L352.75,354.88 L353.00,353.86 L353.25,352.85 L353.50,351.91 L353.75,351.14 L354.00,350.58 L354.25,350.32 L354.50,350.36 L354.75,350.70 L355.00,351.30 L355.25,352.08 L355.50,352.96 L355.75,353.88 L356.00,354.78 L356.25,355.63 L356.50,356.41 L356.75,357.10 L357.00,357.71 L357.25,358.22 L357.50,358.66 L357.75,359.03 L358.00,359.32 L358.25,359.55 L358.50,359.72 L358.75,359.83 L359.00,359.89 L359.25,359.89 L359.50,359.85 L359.75,359.75 L360.00,359.60 L360.25,359.40 L360.50,359.14 L360.75,358.81 L361.00,358.42 L361.25,357.95 L361.50,357.40 L361.75,356.76 L362.00,356.01 L362.25,355.15 L362.50,354.17 L362.75,353.05 L363.00,351.79 L363.25,350.38 L363.50,348.85 L363.75,347.21 L364.00,345.53 L364.25,343.87 L364.50,342.36 L364.75,341.11 L365.00,340.26 L365.25,339.91 L365.50,340.10 L365.75,340.82 L366.00,341.98 L366.25,343.46 L366.50,345.14 L366.75,346.89 L367.00,348.61 L367.25,350.26 L367.50,351.78 L367.75,353.18 L368.00,354.43 L368.25,355.55 L368.50,356.54 L368.75,357.42 L369.00,358.20 L369.25,358.89 L369.50,359.50 L369.75,360.05 L370.00,360.53 L370.25,360.96 L370.50,361.35 L370.75,361.69 L371.00,362.01 L371.25,362.29 L371.50,362.54 L371.75,362.77 L372.00,362.98 L372.25,363.17 L372.50,363.34 L372.75,363.50 L373.00,363.65 L373.25,363.78 L373.50,363.90 L373.75,364.02 L374.00,364.12 L374.25,364.22 L374.50,364.31 L374.75,364.39 L375.00,364.47 L375.25,364.54 L375.50,364.61 L375.75,364.68 L376.00,364.73 L376.25,364.79 L376.50,364.84 L376.75,364.89 L377.00,364.94 L377.25,364.98 L377.50,365.02 L377.75,365.06 L378.00,365.10 L378.25,365.13 L378.50,365.16 L378.75,365.19 L379.00,365.22 L379.25,365.25 L379.50,365.27 L379.75,365.30 L380.00,365.32 L380.25,365.34 L380.50,365.36 L380.75,365.38 L381.00,365.40 L381.25,365.42 L381.50,365.44 L381.75,365.45 L382.00,365.47 L382.25,365.48 L382.50,365.50 L382.75,365.51 L383.00,365.52 L383.25,365.54 L383.50,365.55 L383.75,365.56 L384.00,365.57 L384.25,365.58 L384.50,365.59 L384.75,365.60 L385.00,365.60 L385.25,365.61 L385.50,365.62 L385.75,365.63 L386.00,365.63 L386.25,365.64 L386.50,365.64 L386.75,365.65 L387.00,365.65 L387.25,365.66 L387.50,365.66 L387.75,365.67 L388.00,365.67 L388.25,365.67 L388.50,365.68 L388.75,365.68 L389.00,365.68 L389.25,365.68 L389.50,365.69 L389.75,365.69 L390.00,365.69 L390.25,365.69 L390.50,365.69 L390.75,365.69 L391.00,365.69 L391.25,365.69 L391.50,365.69 L391.75,365.69 L392.00,365.69 L392.25,365.69 L392.50,365.69 L392.75,365.68 L393.00,365.68 L393.25,365.68 L393.50,365.68 L393.75,365.68 L394.00,365.67 L394.25,365.67 L394.50,365.67 L394.75,365.66 L395.00,365.66 L395.25,365.65 L395.50,365.65 L395.75,365.64 L396.00,365.64 L396.25,365.63 L396.50,365.63 L396.75,365.62 L397.00,365.61 L397.25,365.61 L397.50,365.60 L397.75,365.59 L398.00,365.58 L398.25,365.57 L398.50,365.56 L398.75,365.55 L399.00,365.55 L399.25,365.53 L399.50,365.52 L399.75,365.51 L400.00,365.50 L400.25,365.49 L400.50,365.48 L400.75,365.46 L401.00,365.45 L401.25,365.43 L401.50,365.42 L401.75,365.40 L402.00,365.38 L402.25,365.37 L402.50,365.35 L402.75,365.33 L403.00,365.31 L403.25,365.29 L403.50,365.27 L403.75,365.24 L404.00,365.22 L404.25,365.19 L404.50,365.17 L404.75,365.14 L405.00,365.11 L405.25,365.08 L405.50,365.05 L405.75,365.02 L406.00,364.98 L406.25,364.94 L406.50,364.90 L406.75,364.86 L407.00,364.82 L407.25,364.77 L407.50,364.73 L407.75,364.68 L408.00,364.62 L408.25,364.57 L408.50,364.51 L408.75,364.44 L409.00,364.38 L409.25,364.30 L409.50,364.23 L409.75,364.15 L410.00,364.06 L410.25,363.97 L410.50,363.87 L410.75,363.77 L411.00,363.65 L411.25,363.53 L411.50,363.40 L411.75,363.26 L412.00,363.11 L412.25,362.95 L412.50,362.77 L412.75,362.58 L413.00,362.38 L413.25,362.15 L413.50,361.91 L413.75,361.64 L414.00,361.35 L414.25,361.02 L414.50,360.67 L414.75,360.28 L415.00,359.85 L415.25,359.37 L415.50,358.83 L415.75,358.24 L416.00,357.57 L416.25,356.83 L416.50,355.99 L416.75,355.05 L417.00,353.98 L417.25,352.78 L417.50,351.42 L417.75,349.89 L418.00,348.16 L418.25,346.21 L418.50,344.04 L418.75,341.65 L419.00,339.05 L419.25,336.29 L419.50,333.45 L419.75,330.67 L420.00,328.12 L420.25,326.01 L420.50,324.56 L420.75,323.92 L421.00,324.18 L421.25,325.31 L421.50,327.16 L421.75,329.54 L422.00,332.24 L422.25,335.06 L422.50,337.84 L422.75,340.49 L423.00,342.96 L423.25,345.19 L423.50,347.21 L423.75,349.00 L424.00,350.59 L424.25,352.00 L424.50,353.24 L424.75,354.34 L425.00,355.31 L425.25,356.16 L425.50,356.92 L425.75,357.59 L426.00,358.19 L426.25,358.73 L426.50,359.20 L426.75,359.63 L427.00,360.01 L427.25,360.35 L427.50,360.66 L427.75,360.93 L428.00,361.18 L428.25,361.40 L428.50,361.60 L428.75,361.78 L429.00,361.94 L429.25,362.09 L429.50,362.22 L429.75,362.33 L430.00,362.43 L430.25,362.52 L430.50,362.60 L430.75,362.67 L431.00,362.73 L431.25,362.78 L431.50,362.82 L431.75,362.85 L432.00,362.87 L432.25,362.88 L432.50,362.88 L432.75,362.88 L433.00,362.87 L433.25,362.85 L433.50,362.82 L433.75,362.78 L434.00,362.73 L434.25,362.67 L434.50,362.61 L434.75,362.53 L435.00,362.44 L435.25,362.34 L435.50,362.23 L435.75,362.10 L436.00,361.96 L436.25,361.80 L436.50,361.63 L436.75,361.43 L437.00,361.22 L437.25,360.98 L437.50,360.71 L437.75,360.42 L438.00,360.09 L438.25,359.73 L438.50,359.32 L438.75,358.87 L439.00,358.36 L439.25,357.80 L439.50,357.17 L439.75,356.45 L440.00,355.65 L440.25,354.75 L440.50,353.72 L440.75,352.57 L441.00,351.26 L441.25,349.77 L441.50,348.09 L441.75,346.20 L442.00,344.07 L442.25,341.70 L442.50,339.09 L442.75,336.26 L443.00,333.27 L443.25,330.22 L443.50,327.26 L443.75,324.60 L444.00,322.47 L444.25,321.08 L444.50,320.60 L444.75,321.10 L445.00,322.50 L445.25,324.66 L445.50,327.34 L445.75,330.31 L446.00,333.38 L446.25,336.39 L446.50,339.24 L446.75,341.87 L447.00,344.26 L447.25,346.41 L447.50,348.32 L447.75,350.02 L448.00,351.52 L448.25,352.86 L448.50,354.03 L448.75,355.08 L449.00,356.01 L449.25,356.83 L449.50,357.57 L449.75,358.22 L450.00,358.81 L450.25,359.34 L450.50,359.82 L450.75,360.25 L451.00,360.64 L451.25,361.00 L451.50,361.32 L451.75,361.62 L452.00,361.89 L452.25,362.14 L452.50,362.36 L452.75,362.57 L453.00,362.77 L453.25,362.95 L453.50,363.11 L453.75,363.27 L454.00,363.41 L454.25,363.54 L454.50,363.67 L454.75,363.78 L455.00,363.89 L455.25,363.99 L455.50,364.09 L455.75,364.18 L456.00,364.26 L456.25,364.34 L456.50,364.42 L456.75,364.49 L457.00,364.55 L457.25,364.62 L457.50,364.68 L457.75,364.73 L458.00,364.79 L458.25,364.84 L458.50,364.89 L458.75,364.93 L459.00,364.98 L459.25,365.02 L459.50,365.06 L459.75,365.10 L460.00,365.13 L460.25,365.17 L460.50,365.20 L460.75,365.23 L461.00,365.26 L461.25,365.29 L461.50,365.32 L461.75,365.35 L462.00,365.37 L462.25,365.40 L462.50,365.42 L462.75,365.45 L463.00,365.47 L463.25,365.49 L463.50,365.51 L463.75,365.53 L464.00,365.55 L464.25,365.57 L464.50,365.58 L464.75,365.60 L465.00,365.62 L465.25,365.63 L465.50,365.65 L465.75,365.67 L466.00,365.68 L466.25,365.69 L466.50,365.71 L466.75,365.72 L467.00,365.73 L467.25,365.75 L467.50,365.76 L467.75,365.77 L468.00,365.78 L468.25,365.79 L468.50,365.80 L468.75,365.81 L469.00,365.82 L469.25,365.83 L469.50,365.84 L469.75,365.85 L470.00,365.86 L470.25,365.87 L470.50,365.88 L470.75,365.89 L471.00,365.89 L471.25,365.90 L471.50,365.91 L471.75,365.92 L472.00,365.92 L472.25,365.93 L472.50,365.94 L472.75,365.95 L473.00,365.95 L473.25,365.96 L473.50,365.96 L473.75,365.97 L474.00,365.98 L474.25,365.98 L474.50,365.99 L474.75,365.99 L475.00,366.00 L475.25,366.00 L475.50,366.01 L475.75,366.02 L476.00,366.02 L476.25,366.03 L476.50,366.03 L476.75,366.03 L477.00,366.04 L477.25,366.04 L477.50,366.05 L477.75,366.05 L478.00,366.06 L478.25,366.06 L478.50,366.07 L478.75,366.07 L479.00,366.07 L479.25,366.08 L479.50,366.08 L479.75,366.08 L480.00,366.09 L480.25,366.09 L480.50,366.09 L480.75,366.10 L481.00,366.10 L481.25,366.11 L481.50,366.11 L481.75,366.11 L482.00,366.11 L482.25,366.12 L482.50,366.12 L482.75,366.12 L483.00,366.13 L483.25,366.13 L483.50,366.13 L483.75,366.13 L484.00,366.14 L484.25,366.14 L484.50,366.14 L484.75,366.15 L485.00,366.15 L485.25,366.15 L485.50,366.15 L485.75,366.16 L486.00,366.16 L486.25,366.16 L486.50,366.16 L486.75,366.16 L487.00,366.17 L487.25,366.17 L487.50,366.17 L487.75,366.17 L488.00,366.18 L488.25,366.18 L488.50,366.18 L488.75,366.18 L489.00,366.18 L489.25,366.19 L489.50,366.19 L489.75,366.19 L490.00,366.19 L490.25,366.19 L490.50,366.19 L490.75,366.20 L491.00,366.20 L491.25,366.20 L491.50,366.20 L491.75,366.20 L492.00,366.20 L492.25,366.21 L492.50,366.21 L492.75,366.21 L493.00,366.21 L493.25,366.21 L493.50,366.21 L493.75,366.22 L494.00,366.22 L494.25,366.22 L494.50,366.22 L494.75,366.22 L495.00,366.22 L495.25,366.22 L495.50,366.23 L495.75,366.23 L496.00,366.23 L496.25,366.23 L496.50,366.23 L496.75,366.23 L497.00,366.23 L497.25,366.23 L497.50,366.24 L497.75,366.24 L498.00,366.24 L498.25,366.24 L498.50,366.24 L498.75,366.24 L499.00,366.24 L499.25,366.24 L499.50,366.25 L499.75,366.25 L500.00,366.25 L500.25,366.25 L500.50,366.25 L500.75,366.25 L501.00,366.25 L501.25,366.25 L501.50,366.25 L501.75,366.25 L502.00,366.26 L502.25,366.26 L502.50,366.26 L502.75,366.26 L503.00,366.26" fill="none" stroke="#1a1a1a" stroke-width="1.25" stroke-linejoin="round"/><path d="M51.00,365.79 L51.25,365.78 L51.50,365.78 L51.75,365.77 L52.00,365.76 L52.25,365.76 L52.50,365.75 L52.75,365.74 L53.00,365.73 L53.25,365.73 L53.50,365.72 L53.75,365.71 L54.00,365.70 L54.25,365.69 L54.50,365.68 L54.75,365.68 L55.00,365.67 L55.25,365.66 L55.50,365.65 L55.75,365.64 L56.00,365.63 L56.25,365.62 L56.50,365.61 L56.75,365.60 L57.00,365.59 L57.25,365.58 L57.50,365.57 L57.75,365.56 L58.00,365.55 L58.25,365.53 L58.50,365.52 L58.75,365.51 L59.00,365.50 L59.25,365.49 L59.50,365.47 L59.75,365.46 L60.00,365.45 L60.25,365.43 L60.50,365.42 L60.75,365.41 L61.00,365.39 L61.25,365.38 L61.50,365.36 L61.75,365.35 L62.00,365.33 L62.25,365.31 L62.50,365.30 L62.75,365.28 L63.00,365.26 L63.25,365.25 L63.50,365.23 L63.75,365.21 L64.00,365.19 L64.25,365.17 L64.50,365.15 L64.75,365.13 L65.00,365.11 L65.25,365.09 L65.50,365.07 L65.75,365.04 L66.00,365.02 L66.25,365.00 L66.50,364.97 L66.75,364.95 L67.00,364.92 L67.25,364.89 L67.50,364.87 L67.75,364.84 L68.00,364.81 L68.25,364.78 L68.50,364.75 L68.75,364.72 L69.00,364.69 L69.25,364.65 L69.50,364.62 L69.75,364.58 L70.00,364.55 L70.25,364.51 L70.50,364.47 L70.75,364.43 L71.00,364.39 L71.25,364.35 L71.50,364.31 L71.75,364.26 L72.00,364.21 L72.25,364.17 L72.50,364.12 L72.75,364.07 L73.00,364.01 L73.25,363.96 L73.50,363.90 L73.75,363.84 L74.00,363.78 L74.25,363.72 L74.50,363.65 L74.75,363.58 L75.00,363.51 L75.25,363.44 L75.50,363.36 L75.75,363.28 L76.00,363.20 L76.25,363.12 L76.50,363.03 L76.75,362.94 L77.00,362.84 L77.25,362.74 L77.50,362.63 L77.75,362.52 L78.00,362.41 L78.25,362.29 L78.50,362.16 L78.75,362.03 L79.00,361.90 L79.25,361.75 L79.50,361.60 L79.75,361.44 L80.00,361.28 L80.25,361.10 L80.50,360.92 L80.75,360.72 L81.00,360.52 L81.25,360.31 L81.50,360.08 L81.75,359.84 L82.00,359.59 L82.25,359.32 L82.50,359.03 L82.75,358.73 L83.00,358.41 L83.25,358.07 L83.50,357.71 L83.75,357.32 L84.00,356.90 L84.25,356.46 L84.50,355.99 L84.75,355.48 L85.00,354.94 L85.25,354.35 L85.50,353.72 L85.75,353.04 L86.00,352.31 L86.25,351.51 L86.50,350.65 L86.75,349.71 L87.00,348.69 L87.25,347.57 L87.50,346.35 L87.75,345.01 L88.00,343.54 L88.25,341.92 L88.50,340.13 L88.75,338.15 L89.00,335.95 L89.25,333.50 L89.50,330.76 L89.75,327.70 L90.00,324.27 L90.25,320.40 L90.50,316.05 L90.75,311.14 L91.00,305.58 L91.25,299.30 L91.50,292.21 L91.75,284.21 L92.00,275.24 L92.25,265.24 L92.50,254.24 L92.75,242.33 L93.00,229.75 L93.25,216.93 L93.50,204.50 L93.75,193.30 L94.00,184.30 L94.25,178.44 L94.50,176.40 L94.75,178.44 L95.00,184.30 L95.25,193.29 L95.50,204.49 L95.75,216.92 L96.00,229.74 L96.25,242.32 L96.50,254.23 L96.75,265.23 L97.00,275.22 L97.25,284.19 L97.50,292.19 L97.75,299.28 L98.00,305.56 L98.25,311.11 L98.50,316.03 L98.75,320.38 L99.00,324.24 L99.25,327.67 L99.50,330.73 L99.75,333.46 L100.00,335.91 L100.25,338.11 L100.50,340.09 L100.75,341.88 L101.00,343.50 L101.25,344.97 L101.50,346.31 L101.75,347.53 L102.00,348.64 L102.25,349.66 L102.50,350.60 L102.75,351.46 L103.00,352.25 L103.25,352.99 L103.50,353.67 L103.75,354.29 L104.00,354.88 L104.25,355.42 L104.50,355.93 L104.75,356.40 L105.00,356.84 L105.25,357.25 L105.50,357.63 L105.75,357.99 L106.00,358.33 L106.25,358.65 L106.50,358.95 L106.75,359.24 L107.00,359.50 L107.25,359.75 L107.50,359.99 L107.75,360.22 L108.00,360.43 L108.25,360.63 L108.50,360.82 L108.75,361.00 L109.00,361.18 L109.25,361.34 L109.50,361.50 L109.75,361.64 L110.00,361.79 L110.25,361.92 L110.50,362.05 L110.75,362.17 L111.00,362.29 L111.25,362.40 L111.50,362.51 L111.75,362.61 L112.00,362.71 L112.25,362.80 L112.50,362.89 L112.75,362.98 L113.00,363.06 L113.25,363.14 L113.50,363.22 L113.75,363.29 L114.00,363.36 L114.25,363.43 L114.50,363.49 L114.75,363.55 L115.00,363.61 L115.25,363.67 L115.50,363.73 L115.75,363.78 L116.00,363.83 L116.25,363.88 L116.50,363.93 L116.75,363.97 L117.00,364.02 L117.25,364.06 L117.50,364.10 L117.75,364.14 L118.00,364.18 L118.25,364.22 L118.50,364.25 L118.75,364.29 L119.00,364.32 L119.25,364.35 L119.50,364.38 L119.75,364.41 L120.00,364.44 L120.25,364.46 L120.50,364.49 L120.75,364.52 L121.00,364.54 L121.25,364.56 L121.50,364.58 L121.75,364.61 L122.00,364.63 L122.25,364.65 L122.50,364.66 L122.75,364.68 L123.00,364.70 L123.25,364.71 L123.50,364.73 L123.75,364.74 L124.00,364.76 L124.25,364.77 L124.50,364.78 L124.75,364.79 L125.00,364.81 L125.25,364.82 L125.50,364.82 L125.75,364.83 L126.00,364.84 L126.25,364.85 L126.50,364.85 L126.75,364.86 L127.00,364.87 L127.25,364.87 L127.50,364.87 L127.75,364.88 L128.00,364.88 L128.25,364.88 L128.50,364.88 L128.75,364.88 L129.00,364.88 L129.25,364.88 L129.50,364.87 L129.75,364.87 L130.00,364.86 L130.25,364.86 L130.50,364.85 L130.75,364.84 L131.00,364.83 L131.25,364.82 L131.50,364.81 L131.75,364.80 L132.00,364.79 L132.25,364.77 L132.50,364.76 L132.75,364.74 L133.00,364.72 L133.25,364.70 L133.50,364.68 L133.75,364.66 L134.00,364.63 L134.25,364.60 L134.50,364.57 L134.75,364.54 L135.00,364.51 L135.25,364.47 L135.50,364.43 L135.75,364.39 L136.00,364.35 L136.25,364.30 L136.50,364.25 L136.75,364.19 L137.00,364.14 L137.25,364.07 L137.50,364.00 L137.75,363.93 L138.00,363.85 L138.25,363.77 L138.50,363.68 L138.75,363.58 L139.00,363.48 L139.25,363.36 L139.50,363.24 L139.75,363.11 L140.00,362.96 L140.25,362.81 L140.50,362.64 L140.75,362.45 L141.00,362.25 L141.25,362.03 L141.50,361.78 L141.75,361.52 L142.00,361.22 L142.25,360.90 L142.50,360.54 L142.75,360.15 L143.00,359.71 L143.25,359.22 L143.50,358.67 L143.75,358.06 L144.00,357.37 L144.25,356.60 L144.50,355.73 L144.75,354.75 L145.00,353.64 L145.25,352.39 L145.50,350.97 L145.75,349.36 L146.00,347.56 L146.25,345.55 L146.50,343.32 L146.75,340.88 L147.00,338.29 L147.25,335.60 L147.50,332.93 L147.75,330.45 L148.00,328.35 L148.25,326.83 L148.50,326.07 L148.75,326.16 L149.00,327.09 L149.25,328.74 L149.50,330.94 L149.75,333.49 L150.00,336.17 L150.25,338.86 L150.50,341.44 L150.75,343.84 L151.00,346.03 L151.25,348.01 L151.50,349.78 L151.75,351.35 L152.00,352.74 L152.25,353.97 L152.50,355.06 L152.75,356.03 L153.00,356.88 L153.25,357.65 L153.50,358.32 L153.75,358.93 L154.00,359.47 L154.25,359.96 L154.50,360.39 L154.75,360.79 L155.00,361.15 L155.25,361.47 L155.50,361.77 L155.75,362.03 L156.00,362.28 L156.25,362.51 L156.50,362.71 L156.75,362.90 L157.00,363.08 L157.25,363.24 L157.50,363.39 L157.75,363.53 L158.00,363.66 L158.25,363.78 L158.50,363.89 L158.75,363.99 L159.00,364.09 L159.25,364.18 L159.50,364.27 L159.75,364.35 L160.00,364.42 L160.25,364.49 L160.50,364.56 L160.75,364.62 L161.00,364.68 L161.25,364.74 L161.50,364.79 L161.75,364.84 L162.00,364.89 L162.25,364.94 L162.50,364.98 L162.75,365.02 L163.00,365.06 L163.25,365.10 L163.50,365.13 L163.75,365.17 L164.00,365.20 L164.25,365.23 L164.50,365.26 L164.75,365.29 L165.00,365.31 L165.25,365.34 L165.50,365.37 L165.75,365.39 L166.00,365.41 L166.25,365.43 L166.50,365.46 L166.75,365.48 L167.00,365.50 L167.25,365.51 L167.50,365.53 L167.75,365.55 L168.00,365.57 L168.25,365.58 L168.50,365.60 L168.75,365.61 L169.00,365.63 L169.25,365.64 L169.50,365.66 L169.75,365.67 L170.00,365.68 L170.25,365.69 L170.50,365.71 L170.75,365.72 L171.00,365.73 L171.25,365.74 L171.50,365.75 L171.75,365.76 L172.00,365.77 L172.25,365.78 L172.50,365.79 L172.75,365.80 L173.00,365.81 L173.25,365.82 L173.50,365.83 L173.75,365.83 L174.00,365.84 L174.25,365.85 L174.50,365.86 L174.75,365.86 L175.00,365.87 L175.25,365.88 L175.50,365.89 L175.75,365.89 L176.00,365.90 L176.25,365.91 L176.50,365.91 L176.75,365.92 L177.00,365.92 L177.25,365.93 L177.50,365.93 L177.75,365.94 L178.00,365.95 L178.25,365.95 L178.50,365.96 L178.75,365.96 L179.00,365.97 L179.25,365.97 L179.50,365.97 L179.75,365.98 L180.00,365.98 L180.25,365.99 L180.50,365.99 L180.75,366.00 L181.00,366.00 L181.25,366.00 L181.50,366.01 L181.75,366.01 L182.00,366.02 L182.25,366.02 L182.50,366.02 L182.75,366.03 L183.00,366.03 L183.25,366.03 L183.50,366.04 L183.75,366.04 L184.00,366.04 L184.25,366.05 L184.50,366.05 L184.75,366.05 L185.00,366.06 L185.25,366.06 L185.50,366.06 L185.75,366.06 L186.00,366.07 L186.25,366.07 L186.50,366.07 L186.75,366.08 L187.00,366.08 L187.25,366.08 L187.50,366.08 L187.75,366.09 L188.00,366.09 L188.25,366.09 L188.50,366.09 L188.75,366.09 L189.00,366.10 L189.25,366.10 L189.50,366.10 L189.75,366.10 L190.00,366.11 L190.25,366.11 L190.50,366.11 L190.75,366.11 L191.00,366.11 L191.25,366.11 L191.50,366.12 L191.75,366.12 L192.00,366.12 L192.25,366.12 L192.50,366.12 L192.75,366.13 L193.00,366.13 L193.25,366.13 L193.50,366.13 L193.75,366.13 L194.00,366.13 L194.25,366.14 L194.50,366.14 L194.75,366.14 L195.00,366.14 L195.25,366.14 L195.50,366.14 L195.75,366.14 L196.00,366.15 L196.25,366.15 L196.50,366.15 L196.75,366.15 L197.00,366.15 L197.25,366.15 L197.50,366.15 L197.75,366.15 L198.00,366.16 L198.25,366.16 L198.50,366.16 L198.75,366.16 L199.00,366.16 L199.25,366.16 L199.50,366.16 L199.75,366.16 L200.00,366.16 L200.25,366.17 L200.50,366.17 L200.75,366.17 L201.00,366.17 L201.25,366.17 L201.50,366.17 L201.75,366.17 L202.00,366.17 L202.25,366.17 L202.50,366.17 L202.75,366.17 L203.00,366.18 L203.25,366.18 L203.50,366.18 L203.75,366.18 L204.00,366.18 L204.25,366.18 L204.50,366.18 L204.75,366.18 L205.00,366.18 L205.25,366.18 L205.50,366.18 L205.75,366.18 L206.00,366.18 L206.25,366.19 L206.50,366.19 L206.75,366.19 L207.00,366.19 L207.25,366.19 L207.50,366.19 L207.75,366.19 L208.00,366.19 L208.25,366.19 L208.50,366.19 L208.75,366.19 L209.00,366.19 L209.25,366.19 L209.50,366.19 L209.75,366.19 L210.00,366.19 L210.25,366.19 L210.50,366.19 L210.75,366.19 L211.00,366.19 L211.25,366.20 L211.50,366.20 L211.75,366.20 L212.00,366.20 L212.25,366.20 L212.50,366.20 L212.75,366.20 L213.00,366.20 L213.25,366.20 L213.50,366.20 L213.75,366.20 L214.00,366.20 L214.25,366.20 L214.50,366.20 L214.75,366.20 L215.00,366.20 L215.25,366.20 L215.50,366.20 L215.75,366.20 L216.00,366.20 L216.25,366.20 L216.50,366.20 L216.75,366.20 L217.00,366.20 L217.25,366.20 L217.50,366.20 L217.75,366.20 L218.00,366.20 L218.25,366.20 L218.50,366.20 L218.75,366.20 L219.00,366.20 L219.25,366.20 L219.50,366.20 L219.75,366.20 L220.00,366.20 L220.25,366.20 L220.50,366.20 L220.75,366.20 L221.00,366.20 L221.25,366.20 L221.50,366.20 L221.75,366.20 L222.00,366.20 L222.25,366.20 L222.50,366.20 L222.75,366.20 L223.00,366.20 L223.25,366.20 L223.50,366.20 L223.75,366.20 L224.00,366.20 L224.25,366.20 L224.50,366.20 L224.75,366.20 L225.00,366.20 L225.25,366.20 L225.50,366.20 L225.75,366.20 L226.00,366.20 L226.25,366.20 L226.50,366.20 L226.75,366.20 L227.00,366.20 L227.25,366.19 L227.50,366.19 L227.75,366.19 L228.00,366.19 L228.25,366.19 L228.50,366.19 L228.75,366.19 L229.00,366.19 L229.25,366.19 L229.50,366.19 L229.75,366.19 L230.00,366.19 L230.25,366.19 L230.50,366.19 L230.75,366.19 L231.00,366.19 L231.25,366.19 L231.50,366.19 L231.75,366.18 L232.00,366.18 L232.25,366.18 L232.50,366.18 L232.75,366.18 L233.00,366.18 L233.25,366.18 L233.50,366.18 L233.75,366.18 L234.00,366.18 L234.25,366.18 L234.50,366.17 L234.75,366.17 L235.00,366.17 L235.25,366.17 L235.50,366.17 L235.75,366.17 L236.00,366.17 L236.25,366.17 L236.50,366.17 L236.75,366.16 L237.00,366.16 L237.25,366.16 L237.50,366.16 L237.75,366.16 L238.00,366.16 L238.25,366.16 L238.50,366.15 L238.75,366.15 L239.00,366.15 L239.25,366.15 L239.50,366.15 L239.75,366.15 L240.00,366.15 L240.25,366.14 L240.50,366.14 L240.75,366.14 L241.00,366.14 L241.25,366.14 L241.50,366.13 L241.75,366.13 L242.00,366.13 L242.25,366.13 L242.50,366.13 L242.75,366.12 L243.00,366.12 L243.25,366.12 L243.50,366.12 L243.75,366.12 L244.00,366.11 L244.25,366.11 L244.50,366.11 L244.75,366.11 L245.00,366.10 L245.25,366.10 L245.50,366.10 L245.75,366.09 L246.00,366.09 L246.25,366.09 L246.50,366.09 L246.75,366.08 L247.00,366.08 L247.25,366.08 L247.50,366.07 L247.75,366.07 L248.00,366.07 L248.25,366.06 L248.50,366.06 L248.75,366.05 L249.00,366.05 L249.25,366.05 L249.50,366.04 L249.75,366.04 L250.00,366.03 L250.25,366.03 L250.50,366.02 L250.75,366.02 L251.00,366.02 L251.25,366.01 L251.50,366.01 L251.75,366.00 L252.00,365.99 L252.25,365.99 L252.50,365.98 L252.75,365.98 L253.00,365.97 L253.25,365.97 L253.50,365.96 L253.75,365.95 L254.00,365.95 L254.25,365.94 L254.50,365.93 L254.75,365.93 L255.00,365.92 L255.25,365.91 L255.50,365.90 L255.75,365.89 L256.00,365.89 L256.25,365.88 L256.50,365.87 L256.75,365.86 L257.00,365.85 L257.25,365.84 L257.50,365.83 L257.75,365.82 L258.00,365.81 L258.25,365.80 L258.50,365.79 L258.75,365.77 L259.00,365.76 L259.25,365.75 L259.50,365.73 L259.75,365.72 L260.00,365.71 L260.25,365.69 L260.50,365.68 L260.75,365.66 L261.00,365.64 L261.25,365.63 L261.50,365.61 L261.75,365.59 L262.00,365.57 L262.25,365.55 L262.50,365.53 L262.75,365.51 L263.00,365.49 L263.25,365.46 L263.50,365.44 L263.75,365.41 L264.00,365.39 L264.25,365.36 L264.50,365.33 L264.75,365.30 L265.00,365.27 L265.25,365.23 L265.50,365.20 L265.75,365.16 L266.00,365.12 L266.25,365.08 L266.50,365.04 L266.75,364.99 L267.00,364.95 L267.25,364.90 L267.50,364.84 L267.75,364.79 L268.00,364.73 L268.25,364.67 L268.50,364.60 L268.75,364.53 L269.00,364.46 L269.25,364.38 L269.50,364.30 L269.75,364.21 L270.00,364.11 L270.25,364.01 L270.50,363.90 L270.75,363.79 L271.00,363.66 L271.25,363.53 L271.50,363.39 L271.75,363.23 L272.00,363.07 L272.25,362.89 L272.50,362.70 L272.75,362.48 L273.00,362.26 L273.25,362.01 L273.50,361.73 L273.75,361.44 L274.00,361.11 L274.25,360.75 L274.50,360.36 L274.75,359.92 L275.00,359.44 L275.25,358.91 L275.50,358.31 L275.75,357.65 L276.00,356.91 L276.25,356.07 L276.50,355.14 L276.75,354.08 L277.00,352.89 L277.25,351.55 L277.50,350.03 L277.75,348.31 L278.00,346.37 L278.25,344.19 L278.50,341.76 L278.75,339.08 L279.00,336.17 L279.25,333.07 L279.50,329.89 L279.75,326.77 L280.00,323.91 L280.25,321.55 L280.50,319.93 L280.75,319.22 L281.00,319.53 L281.25,320.80 L281.50,322.90 L281.75,325.59 L282.00,328.63 L282.25,331.80 L282.50,334.95 L282.75,337.94 L283.00,340.72 L283.25,343.25 L283.50,345.53 L283.75,347.56 L284.00,349.37 L284.25,350.96 L284.50,352.38 L284.75,353.63 L285.00,354.73 L285.25,355.72 L285.50,356.59 L285.75,357.36 L286.00,358.06 L286.25,358.68 L286.50,359.24 L286.75,359.74 L287.00,360.19 L287.25,360.60 L287.50,360.98 L287.75,361.31 L288.00,361.62 L288.25,361.91 L288.50,362.16 L288.75,362.40 L289.00,362.62 L289.25,362.82 L289.50,363.00 L289.75,363.17 L290.00,363.33 L290.25,363.48 L290.50,363.62 L290.75,363.75 L291.00,363.86 L291.25,363.98 L291.50,364.08 L291.75,364.18 L292.00,364.27 L292.25,364.35 L292.50,364.43 L292.75,364.51 L293.00,364.58 L293.25,364.65 L293.50,364.71 L293.75,364.77 L294.00,364.83 L294.25,364.88 L294.50,364.93 L294.75,364.98 L295.00,365.03 L295.25,365.07 L295.50,365.11 L295.75,365.15 L296.00,365.19 L296.25,365.23 L296.50,365.26 L296.75,365.29 L297.00,365.33 L297.25,365.36 L297.50,365.38 L297.75,365.41 L298.00,365.44 L298.25,365.46 L298.50,365.49 L298.75,365.51 L299.00,365.53 L299.25,365.55 L299.50,365.57 L299.75,365.59 L300.00,365.61 L300.25,365.63 L300.50,365.65 L300.75,365.67 L301.00,365.68 L301.25,365.70 L301.50,365.71 L301.75,365.73 L302.00,365.74 L302.25,365.75 L302.50,365.77 L302.75,365.78 L303.00,365.79 L303.25,365.80 L303.50,365.82 L303.75,365.83 L304.00,365.84 L304.25,365.85 L304.50,365.86 L304.75,365.87 L305.00,365.88 L305.25,365.89 L305.50,365.90 L305.75,365.91 L306.00,365.91 L306.25,365.92 L306.50,365.93 L306.75,365.94 L307.00,365.95 L307.25,365.95 L307.50,365.96 L307.75,365.97 L308.00,365.97 L308.25,365.98 L308.50,365.99 L308.75,365.99 L309.00,366.00 L309.25,366.00 L309.50,366.01 L309.75,366.02 L310.00,366.02 L310.25,366.03 L310.50,366.03 L310.75,366.04 L311.00,366.04 L311.25,366.05 L311.50,366.05 L311.75,366.05 L312.00,366.06 L312.25,366.06 L312.50,366.07 L312.75,366.07 L313.00,366.08 L313.25,366.08 L313.50,366.08 L313.75,366.09 L314.00,366.09 L314.25,366.09 L314.50,366.10 L314.75,366.10 L315.00,366.10 L315.25,366.11 L315.50,366.11 L315.75,366.11 L316.00,366.12 L316.25,366.12 L316.50,366.12 L316.75,366.13 L317.00,366.13 L317.25,366.13 L317.50,366.13 L317.75,366.14 L318.00,366.14 L318.25,366.14 L318.50,366.14 L318.75,366.15 L319.00,366.15 L319.25,366.15 L319.50,366.15 L319.75,366.16 L320.00,366.16 L320.25,366.16 L320.50,366.16 L320.75,366.16 L321.00,366.17 L321.25,366.17 L321.50,366.17 L321.75,366.17 L322.00,366.17 L322.25,366.18 L322.50,366.18 L322.75,366.18 L323.00,366.18 L323.25,366.18 L323.50,366.18 L323.75,366.19 L324.00,366.19 L324.25,366.19 L324.50,366.19 L324.75,366.19 L325.00,366.19 L325.25,366.20 L325.50,366.20 L325.75,366.20 L326.00,366.20 L326.25,366.20 L326.50,366.20 L326.75,366.20 L327.00,366.20 L327.25,366.21 L327.50,366.21 L327.75,366.21 L328.00,366.21 L328.25,366.21 L328.50,366.21 L328.75,366.21 L329.00,366.21 L329.25,366.21 L329.50,366.22 L329.75,366.22 L330.00,366.22 L330.25,366.22 L330.50,366.22 L330.75,366.22 L331.00,366.22 L331.25,366.22 L331.50,366.22 L331.75,366.22 L332.00,366.22 L332.25,366.23 L332.50,366.23 L332.75,366.23 L333.00,366.23 L333.25,366.23 L333.50,366.23 L333.75,366.23 L334.00,366.23 L334.25,366.23 L334.50,366.23 L334.75,366.23 L335.00,366.23 L335.25,366.23 L335.50,366.23 L335.75,366.24 L336.00,366.24 L336.25,366.24 L336.50,366.24 L336.75,366.24 L337.00,366.24 L337.25,366.24 L337.50,366.24 L337.75,366.24 L338.00,366.24 L338.25,366.24 L338.50,366.24 L338.75,366.24 L339.00,366.24 L339.25,366.24 L339.50,366.24 L339.75,366.24 L340.00,366.24 L340.25,366.24 L340.50,366.24 L340.75,366.25 L341.00,366.25 L341.25,366.25 L341.50,366.25 L341.75,366.25 L342.00,366.25 L342.25,366.25 L342.50,366.25 L342.75,366.25 L343.00,366.25 L343.25,366.25 L343.50,366.25 L343.75,366.25 L344.00,366.25 L344.25,366.25 L344.50,366.25 L344.75,366.25 L345.00,366.25 L345.25,366.25 L345.50,366.25 L345.75,366.25 L346.00,366.25 L346.25,366.25 L346.50,366.25 L346.75,366.25 L347.00,366.25 L347.25,366.25 L347.50,366.25 L347.75,366.25 L348.00,366.25 L348.25,366.25 L348.50,366.25 L348.75,366.25 L349.00,366.25 L349.25,366.25 L349.50,366.25 L349.75,366.25 L350.00,366.25 L350.25,366.25 L350.50,366.25 L350.75,366.25 L351.00,366.25 L351.25,366.25 L351.50,366.25 L351.75,366.25 L352.00,366.25 L352.25,366.25 L352.50,366.25 L352.75,366.25 L353.00,366.25 L353.25,366.25 L353.50,366.25 L353.75,366.25 L354.00,366.25 L354.25,366.25 L354.50,366.25 L354.75,366.25 L355.00,366.25 L355.25,366.25 L355.50,366.25 L355.75,366.25 L356.00,366.25 L356.25,366.25 L356.50,366.25 L356.75,366.25 L357.00,366.25 L357.25,366.25 L357.50,366.25 L357.75,366.25 L358.00,366.25 L358.25,366.25 L358.50,366.25 L358.75,366.25 L359.00,366.25 L359.25,366.25 L359.50,366.25 L359.75,366.25 L360.00,366.24 L360.25,366.24 L360.50,366.24 L360.75,366.24 L361.00,366.24 L361.25,366.24 L361.50,366.24 L361.75,366.24 L362.00,366.24 L362.25,366.24 L362.50,366.24 L362.75,366.24 L363.00,366.24 L363.25,366.24 L363.50,366.24 L363.75,366.24 L364.00,366.24 L364.25,366.24 L364.50,366.24 L364.75,366.24 L365.00,366.23 L365.25,366.23 L365.50,366.23 L365.75,366.23 L366.00,366.23 L366.25,366.23 L366.50,366.23 L366.75,366.23 L367.00,366.23 L367.25,366.23 L367.50,366.23 L367.75,366.23 L368.00,366.23 L368.25,366.22 L368.50,366.22 L368.75,366.22 L369.00,366.22 L369.25,366.22 L369.50,366.22 L369.75,366.22 L370.00,366.22 L370.25,366.22 L370.50,366.22 L370.75,366.21 L371.00,366.21 L371.25,366.21 L371.50,366.21 L371.75,366.21 L372.00,366.21 L372.25,366.21 L372.50,366.21 L372.75,366.21 L373.00,366.20 L373.25,366.20 L373.50,366.20 L373.75,366.20 L374.00,366.20 L374.25,366.20 L374.50,366.20 L374.75,366.19 L375.00,366.19 L375.25,366.19 L375.50,366.19 L375.75,366.19 L376.00,366.19 L376.25,366.18 L376.50,366.18 L376.75,366.18 L377.00,366.18 L377.25,366.18 L377.50,366.17 L377.75,366.17 L378.00,366.17 L378.25,366.17 L378.50,366.17 L378.75,366.16 L379.00,366.16 L379.25,366.16 L379.50,366.16 L379.75,366.15 L380.00,366.15 L380.25,366.15 L380.50,366.15 L380.75,366.14 L381.00,366.14 L381.25,366.14 L381.50,366.14 L381.75,366.13 L382.00,366.13 L382.25,366.13 L382.50,366.12 L382.75,366.12 L383.00,366.12 L383.25,366.11 L383.50,366.11 L383.75,366.11 L384.00,366.10 L384.25,366.10 L384.50,366.09 L384.75,366.09 L385.00,366.09 L385.25,366.08 L385.50,366.08 L385.75,366.07 L386.00,366.07 L386.25,366.06 L386.50,366.06 L386.75,366.05 L387.00,366.05 L387.25,366.04 L387.50,366.04 L387.75,366.03 L388.00,366.02 L388.25,366.02 L388.50,366.01 L388.75,366.00 L389.00,366.00 L389.25,365.99 L389.50,365.98 L389.75,365.97 L390.00,365.97 L390.25,365.96 L390.50,365.95 L390.75,365.94 L391.00,365.93 L391.25,365.92 L391.50,365.91 L391.75,365.90 L392.00,365.89 L392.25,365.88 L392.50,365.87 L392.75,365.85 L393.00,365.84 L393.25,365.83 L393.50,365.81 L393.75,365.80 L394.00,365.78 L394.25,365.77 L394.50,365.75 L394.75,365.73 L395.00,365.71 L395.25,365.69 L395.50,365.67 L395.75,365.65 L396.00,365.63 L396.25,365.61 L396.50,365.58 L396.75,365.55 L397.00,365.53 L397.25,365.50 L397.50,365.47 L397.75,365.43 L398.00,365.40 L398.25,365.36 L398.50,365.32 L398.75,365.28 L399.00,365.23 L399.25,365.18 L399.50,365.13 L399.75,365.07 L400.00,365.01 L400.25,364.95 L400.50,364.88 L400.75,364.81 L401.00,364.72 L401.25,364.64 L401.50,364.54 L401.75,364.44 L402.00,364.33 L402.25,364.20 L402.50,364.07 L402.75,363.92 L403.00,363.76 L403.25,363.58 L403.50,363.38 L403.75,363.16 L404.00,362.92 L404.25,362.65 L404.50,362.35 L404.75,362.01 L405.00,361.63 L405.25,361.20 L405.50,360.72 L405.75,360.18 L406.00,359.56 L406.25,358.87 L406.50,358.08 L406.75,357.20 L407.00,356.21 L407.25,355.11 L407.50,353.91 L407.75,352.63 L408.00,351.28 L408.25,349.94 L408.50,348.67 L408.75,347.57 L409.00,346.74 L409.25,346.28 L409.50,346.23 L409.75,346.61 L410.00,347.37 L410.25,348.42 L410.50,349.66 L410.75,350.99 L411.00,352.34 L411.25,353.63 L411.50,354.85 L411.75,355.96 L412.00,356.97 L412.25,357.87 L412.50,358.67 L412.75,359.38 L413.00,360.00 L413.25,360.56 L413.50,361.05 L413.75,361.48 L414.00,361.87 L414.25,362.21 L414.50,362.51 L414.75,362.79 L415.00,363.03 L415.25,363.25 L415.50,363.45 L415.75,363.63 L416.00,363.79 L416.25,363.93 L416.50,364.06 L416.75,364.19 L417.00,364.30 L417.25,364.40 L417.50,364.49 L417.75,364.57 L418.00,364.65 L418.25,364.72 L418.50,364.79 L418.75,364.85 L419.00,364.90 L419.25,364.96 L419.50,365.00 L419.75,365.05 L420.00,365.09 L420.25,365.13 L420.50,365.16 L420.75,365.20 L421.00,365.23 L421.25,365.25 L421.50,365.28 L421.75,365.30 L422.00,365.33 L422.25,365.35 L422.50,365.37 L422.75,365.39 L423.00,365.40 L423.25,365.42 L423.50,365.43 L423.75,365.45 L424.00,365.46 L424.25,365.47 L424.50,365.48 L424.75,365.49 L425.00,365.50 L425.25,365.50 L425.50,365.51 L425.75,365.52 L426.00,365.52 L426.25,365.53 L426.50,365.53 L426.75,365.53 L427.00,365.54 L427.25,365.54 L427.50,365.54 L427.75,365.54 L428.00,365.54 L428.25,365.54 L428.50,365.54 L428.75,365.54 L429.00,365.53 L429.25,365.53 L429.50,365.53 L429.75,365.53 L430.00,365.52 L430.25,365.52 L430.50,365.51 L430.75,365.50 L431.00,365.50 L431.25,365.49 L431.50,365.48 L431.75,365.48 L432.00,365.47 L432.25,365.46 L432.50,365.45 L432.75,365.44 L433.00,365.43 L433.25,365.41 L433.50,365.40 L433.75,365.39 L434.00,365.37 L434.25,365.36 L434.50,365.34 L434.75,365.33 L435.00,365.31 L435.25,365.29 L435.50,365.28 L435.75,365.26 L436.00,365.24 L436.25,365.21 L436.50,365.19 L436.75,365.17 L437.00,365.15 L437.25,365.12 L437.50,365.09 L437.75,365.07 L438.00,365.04 L438.25,365.01 L438.50,364.97 L438.75,364.94 L439.00,364.91 L439.25,364.87 L439.50,364.83 L439.75,364.79 L440.00,364.75 L440.25,364.70 L440.50,364.66 L440.75,364.61 L441.00,364.56 L441.25,364.50 L441.50,364.45 L441.75,364.39 L442.00,364.32 L442.25,364.26 L442.50,364.19 L442.75,364.11 L443.00,364.04 L443.25,363.95 L443.50,363.87 L443.75,363.78 L444.00,363.68 L444.25,363.57 L444.50,363.46 L444.75,363.35 L445.00,363.22 L445.25,363.09 L445.50,362.95 L445.75,362.80 L446.00,362.64 L446.25,362.46 L446.50,362.28 L446.75,362.08 L447.00,361.86 L447.25,361.63 L447.50,361.38 L447.75,361.11 L448.00,360.82 L448.25,360.51 L448.50,360.16 L448.75,359.79 L449.00,359.38 L449.25,358.93 L449.50,358.44 L449.75,357.90 L450.00,357.31 L450.25,356.65 L450.50,355.93 L450.75,355.12 L451.00,354.23 L451.25,353.23 L451.50,352.11 L451.75,350.86 L452.00,349.45 L452.25,347.86 L452.50,346.06 L452.75,344.04 L453.00,341.75 L453.25,339.16 L453.50,336.24 L453.75,332.96 L454.00,329.30 L454.25,325.26 L454.50,320.87 L454.75,316.20 L455.00,311.41 L455.25,306.71 L455.50,302.40 L455.75,298.84 L456.00,296.39 L456.25,295.33 L456.50,295.79 L456.75,297.71 L457.00,300.87 L457.25,304.92 L457.50,309.51 L457.75,314.30 L458.00,319.03 L458.25,323.55 L458.50,327.74 L458.75,331.55 L459.00,334.98 L459.25,338.05 L459.50,340.76 L459.75,343.17 L460.00,345.30 L460.25,347.19 L460.50,348.85 L460.75,350.33 L461.00,351.65 L461.25,352.82 L461.50,353.87 L461.75,354.80 L462.00,355.64 L462.25,356.40 L462.50,357.08 L462.75,357.70 L463.00,358.26 L463.25,358.77 L463.50,359.24 L463.75,359.66 L464.00,360.05 L464.25,360.41 L464.50,360.74 L464.75,361.04 L465.00,361.32 L465.25,361.58 L465.50,361.82 L465.75,362.04 L466.00,362.25 L466.25,362.44 L466.50,362.62 L466.75,362.79 L467.00,362.95 L467.25,363.09 L467.50,363.23 L467.75,363.36 L468.00,363.48 L468.25,363.60 L468.50,363.70 L468.75,363.80 L469.00,363.90 L469.25,363.99 L469.50,364.08 L469.75,364.16 L470.00,364.24 L470.25,364.31 L470.50,364.38 L470.75,364.45 L471.00,364.51 L471.25,364.57 L471.50,364.63 L471.75,364.68 L472.00,364.73 L472.25,364.78 L472.50,364.83 L472.75,364.87 L473.00,364.92 L473.25,364.96 L473.50,365.00 L473.75,365.04 L474.00,365.07 L474.25,365.11 L474.50,365.14 L474.75,365.17 L475.00,365.21 L475.25,365.24 L475.50,365.26 L475.75,365.29 L476.00,365.32 L476.25,365.34 L476.50,365.37 L476.75,365.39 L477.00,365.42 L477.25,365.44 L477.50,365.46 L477.75,365.48 L478.00,365.50 L478.25,365.52 L478.50,365.54 L478.75,365.56 L479.00,365.57 L479.25,365.59 L479.50,365.61 L479.75,365.62 L480.00,365.64 L480.25,365.65 L480.50,365.67 L480.75,365.68 L481.00,365.70 L481.25,365.71 L481.50,365.72 L481.75,365.74 L482.00,365.75 L482.25,365.76 L482.50,365.77 L482.75,365.78 L483.00,365.79 L483.25,365.80 L483.50,365.81 L483.75,365.82 L484.00,365.83 L484.25,365.84 L484.50,365.85 L484.75,365.86 L485.00,365.87 L485.25,365.88 L485.50,365.89 L485.75,365.90 L486.00,365.90 L486.25,365.91 L486.50,365.92 L486.75,365.93 L487.00,365.93 L487.25,365.94 L487.50,365.95 L487.75,365.95 L488.00,365.96 L488.25,365.97 L488.50,365.97 L488.75,365.98 L489.00,365.99 L489.25,365.99 L489.50,366.00 L489.75,366.00 L490.00,366.01 L490.25,366.01 L490.50,366.02 L490.75,366.02 L491.00,366.03 L491.25,366.03 L491.50,366.04 L491.75,366.04 L492.00,366.05 L492.25,366.05 L492.50,366.06 L492.75,366.06 L493.00,366.07 L493.25,366.07 L493.50,366.07 L493.75,366.08 L494.00,366.08 L494.25,366.09 L494.50,366.09 L494.75,366.09 L495.00,366.10 L495.25,366.10 L495.50,366.10 L495.75,366.11 L496.00,366.11 L496.25,366.11 L496.50,366.12 L496.75,366.12 L497.00,366.12 L497.25,366.13 L497.50,366.13 L497.75,366.13 L498.00,366.14 L498.25,366.14 L498.50,366.14 L498.75,366.14 L499.00,366.15 L499.25,366.15 L499.50,366.15 L499.75,366.16 L500.00,366.16 L500.25,366.16 L500.50,366.16 L500.75,366.17 L501.00,366.17 L501.25,366.17 L501.50,366.17 L501.75,366.18 L502.00,366.18 L502.25,366.18 L502.50,366.18 L502.75,366.18 L503.00,366.19" fill="none" stroke="#40e040" stroke-width="1.25" stroke-linejoin="round"/>
 <rect x="84" y="226" width="22" height="53" fill="#fff"/>
</g>
<g stroke="#000" stroke-width="2"><line x1="79" y1="366" x2="79" y2="362.5" /><line x1="79" y1="2.5" x2="79" y2="5.7" /><line x1="126" y1="366" x2="126" y2="359" /><line x1="126" y1="2.5" x2="126" y2="9.2" /><line x1="173.5" y1="366" x2="173.5" y2="362.5" /><line x1="173.5" y1="2.5" x2="173.5" y2="5.7" /><line x1="221" y1="366" x2="221" y2="359" /><line x1="221" y1="2.5" x2="221" y2="9.2" /><line x1="268" y1="366" x2="268" y2="362.5" /><line x1="268" y1="2.5" x2="268" y2="5.7" /><line x1="315" y1="366" x2="315" y2="359" /><line x1="315" y1="2.5" x2="315" y2="9.2" /><line x1="362" y1="366" x2="362" y2="362.5" /><line x1="362" y1="2.5" x2="362" y2="5.7" /><line x1="409" y1="366" x2="409" y2="359" /><line x1="409" y1="2.5" x2="409" y2="9.2" /><line x1="456.5" y1="366" x2="456.5" y2="362.5" /><line x1="456.5" y1="2.5" x2="456.5" y2="5.7" /><line x1="51" y1="22.6" x2="58" y2="22.6" /><line x1="503.5" y1="22.6" x2="496.5" y2="22.6" /><line x1="51" y1="73.5" x2="54.5" y2="73.5" /><line x1="503.5" y1="73.5" x2="500.0" y2="73.5" /><line x1="51" y1="123.5" x2="58" y2="123.5" /><line x1="503.5" y1="123.5" x2="496.5" y2="123.5" /><line x1="51" y1="174" x2="54.5" y2="174" /><line x1="503.5" y1="174" x2="500.0" y2="174" /><line x1="51" y1="275.4" x2="54.5" y2="275.4" /><line x1="503.5" y1="275.4" x2="500.0" y2="275.4" /><line x1="51" y1="325.7" x2="58" y2="325.7" /><line x1="503.5" y1="325.7" x2="496.5" y2="325.7" /></g>
<rect x="51" y="2.5" width="452.5" height="363.5" fill="none" stroke="#000" stroke-width="2"/>
<line x1="51" y1="225" x2="503.5" y2="225" stroke="#000" stroke-width="2"/>
<g font-family="Liberation Sans, sans-serif" fill="#1a1a1a">
 <g font-size="20"><text transform="translate(126.5,388) scale(0.925,1)" text-anchor="middle">300</text><text transform="translate(220.2,388) scale(0.925,1)" text-anchor="middle">400</text><text transform="translate(315.5,388) scale(0.925,1)" text-anchor="middle">500</text><text transform="translate(408.8,388) scale(0.925,1)" text-anchor="middle">600</text><text transform="translate(503,388) scale(0.925,1)" text-anchor="middle">700</text></g>
 <text x="177.5" y="425" font-size="24">Raman shift (cm</text>
 <text x="352.8" y="418.4" font-size="20">-</text>
 <text x="361.4" y="415.9" font-size="14.2">1</text>
 <text x="369" y="425" font-size="24">)</text>
 <text transform="translate(19.6,171) rotate(-90)" text-anchor="middle" font-size="24.3">Raman intensity (a.u.)</text>
 <line x1="302.7" y1="36.9" x2="344.2" y2="36.9" stroke="#1c1c1c" stroke-width="1.5"/>
 <line x1="302.7" y1="64.3" x2="345.8" y2="64.3" stroke="#2626c8" stroke-width="1.5"/>
 <text transform="translate(349,42.6) scale(0.914,1)" font-size="21">ZrO<tspan font-size="14" dy="5.5">2</tspan><tspan dy="-5.5"> with IL</tspan></text>
 <text transform="translate(349,70.8) scale(0.914,1)" font-size="21">ZrO<tspan font-size="14" dy="5.5">2</tspan><tspan dy="-5.5"> without IL</tspan></text>
 <text x="386" y="259" font-size="20.7">Simulation</text>
 <text x="70" y="262" font-size="14" fill="#3cd83c">t-phase</text>
 <text x="141.5" y="255.6" font-size="14" fill="#e8202a">polar</text>
 <text x="141.5" y="271" font-size="14" fill="#e8202a">o-phase</text>
 <text x="266" y="280.3" font-size="14">m-phase</text>
</g>
</svg>
</body></html>
